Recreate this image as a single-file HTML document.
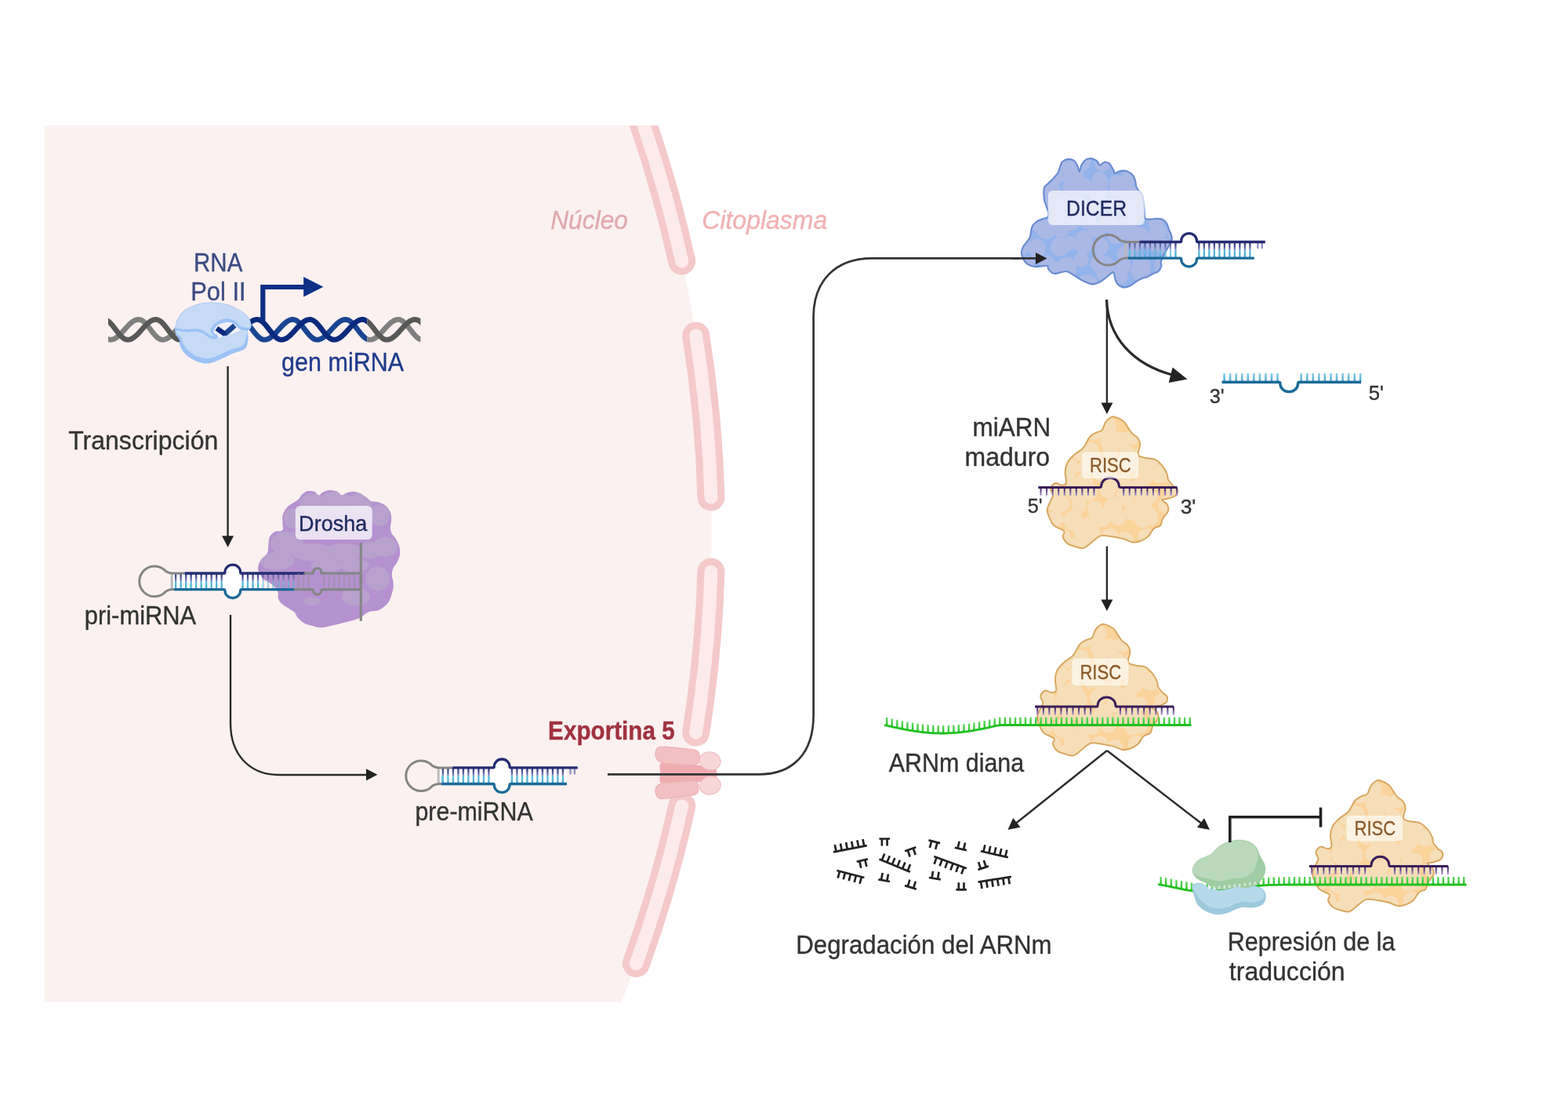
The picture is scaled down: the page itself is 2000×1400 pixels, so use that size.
<!DOCTYPE html>
<html lang="es"><head><meta charset="utf-8"><title>Biogénesis de miRNA</title>
<style>html,body{margin:0;padding:0;background:#fff;}body{width:2000px;height:1400px;overflow:hidden;}svg{display:block;will-change:transform;}text{font-family:"Liberation Sans",sans-serif;}</style>
</head><body>
<svg width="2000" height="1400" viewBox="0 0 2000 1400">
<defs>
<clipPath id="nuc"><rect x="57" y="160" width="1000" height="1118"/></clipPath>
<linearGradient id="tickH" x1="0" y1="0" x2="0" y2="1"><stop offset="0" stop-color="#2a2f75"/><stop offset="0.3" stop-color="#5a5e9e"/><stop offset="0.46" stop-color="#8789bd"/><stop offset="0.5" stop-color="#62bdd9"/><stop offset="1" stop-color="#41a9cd"/></linearGradient>
</defs>
<g clip-path="url(#nuc)">
<circle cx="-700.2" cy="680.7" r="1607.9" fill="#fbf1f0"/>
<path d="M799.2,100 A1607.9,1607.9 0 0 1 869.7,333" fill="none" stroke="#f4c9ca" stroke-width="35" stroke-linecap="round"/>
<path d="M887.7,428 A1607.9,1607.9 0 0 1 907,634" fill="none" stroke="#f4c9ca" stroke-width="35" stroke-linecap="round"/>
<path d="M907,729 A1607.9,1607.9 0 0 1 887.6,934" fill="none" stroke="#f4c9ca" stroke-width="35" stroke-linecap="round"/>
<path d="M869.7,1028 A1607.9,1607.9 0 0 1 811.5,1228.5" fill="none" stroke="#f4c9ca" stroke-width="35" stroke-linecap="round"/>
<path d="M799.2,100 A1607.9,1607.9 0 0 1 869.7,333" fill="none" stroke="#fdeaea" stroke-width="17" stroke-linecap="round"/>
<path d="M887.7,428 A1607.9,1607.9 0 0 1 907,634" fill="none" stroke="#fdeaea" stroke-width="17" stroke-linecap="round"/>
<path d="M907,729 A1607.9,1607.9 0 0 1 887.6,934" fill="none" stroke="#fdeaea" stroke-width="17" stroke-linecap="round"/>
<path d="M869.7,1028 A1607.9,1607.9 0 0 1 811.5,1228.5" fill="none" stroke="#fdeaea" stroke-width="17" stroke-linecap="round"/>
</g>
<g id="icons">
<clipPath id="dnaL"><rect x="138" y="395" width="100" height="50"/></clipPath>
<clipPath id="dnaB"><rect x="300" y="395" width="168.4" height="50"/></clipPath>
<clipPath id="dnaR"><rect x="468.4" y="395" width="68" height="50"/></clipPath>
<g fill="none" stroke-width="6.7" stroke-linecap="butt" stroke-linejoin="round" clip-path="url(#dnaL)"><polyline points="130,425.9 131.5,427.7 133,429.2 134.5,430.5 136,431.6 137.5,432.4 139,433 140.5,433.2 142,433.1 143.5,432.9 145,432.4 146.5,431.7 148,430.8 149.5,429.7 151,428.5 152.5,427.1 154,425.6 155.5,424 157,422.4 158.5,420.7 160,419 161.5,417.3 163,415.7 164.5,414.2 166,412.7 167.5,411.4 169,410.3 170.5,409.3 172,408.5 173.5,407.9 175,407.6 176.5,407.4 178,407.5 179.5,407.9 181,408.6 182.5,409.5 184,410.8 185.5,412.2 187,413.9 188.5,415.6 190,417.5 191.5,419.5 193,421.5 194.5,423.5 196,425.3 197.5,427.1 199,428.7 200.5,430.1 202,431.3 203.5,432.2 205,432.8 206.5,433.1 208,433.2 209.5,433 211,432.6 212.5,431.9 214,431.1 215.5,430.1 217,428.9 218.5,427.6 220,426.1 221.5,424.6 223,422.9 224.5,421.3 226,419.6 227.5,417.9 229,416.2 230.5,414.7 232,413.2 233.5,411.9 235,410.7 236.5,409.6 238,408.8 239.5,408.1 241,407.7 242.5,407.4 244,407.4" stroke="#808080"/><polyline points="130,407.7 131.5,407.4 133,407.4 134.5,407.7 136,408.3 137.5,409.2 139,410.3 140.5,411.7 142,413.3 143.5,415 145,416.9 146.5,418.9 148,420.8 149.5,422.8 151,424.7 152.5,426.5 154,428.2 155.5,429.7 157,430.9 158.5,431.9 160,432.6 161.5,433.1 163,433.2 164.5,433.1 166,432.7 167.5,432.2 169,431.4 170.5,430.4 172,429.3 173.5,428 175,426.6 176.5,425.1 178,423.5 179.5,421.8 181,420.1 182.5,418.4 184,416.8 185.5,415.2 187,413.7 188.5,412.3 190,411 191.5,409.9 193,409 194.5,408.3 196,407.8 197.5,407.5 199,407.4 200.5,407.6 202,408.1 203.5,408.9 205,409.9 206.5,411.2 208,412.7 209.5,414.4 211,416.3 212.5,418.2 214,420.2 215.5,422.2 217,424.1 218.5,425.9 220,427.7 221.5,429.2 223,430.5 224.5,431.6 226,432.4 227.5,433 229,433.2 230.5,433.1 232,432.9 233.5,432.4 235,431.7 236.5,430.8 238,429.7 239.5,428.5 241,427.1 242.5,425.6 244,424" stroke="#585858"/></g>
<g fill="none" stroke-width="6.7" stroke-linecap="butt" stroke-linejoin="round" clip-path="url(#dnaB)"><polyline points="295,413.2 296.5,411.9 298,410.7 299.5,409.6 301,408.8 302.5,408.1 304,407.7 305.5,407.4 307,407.4 308.5,407.7 310,408.3 311.5,409.1 313,410.2 314.5,411.5 316,413.1 317.5,414.8 319,416.6 320.5,418.5 322,420.5 323.5,422.4 325,424.4 326.5,426.2 328,427.8 329.5,429.3 331,430.6 332.5,431.7 334,432.5 335.5,433 337,433.2 338.5,433.1 340,432.9 341.5,432.4 343,431.7 344.5,430.8 346,429.7 347.5,428.5 349,427.1 350.5,425.7 352,424.1 353.5,422.5 355,420.8 356.5,419.1 358,417.5 359.5,415.9 361,414.3 362.5,412.9 364,411.6 365.5,410.4 367,409.4 368.5,408.6 370,408 371.5,407.6 373,407.4 374.5,407.5 376,407.8 377.5,408.4 379,409.3 380.5,410.4 382,411.8 383.5,413.4 385,415.1 386.5,417 388,418.9 389.5,420.9 391,422.8 392.5,424.7 394,426.5 395.5,428.2 397,429.6 398.5,430.9 400,431.9 401.5,432.6 403,433 404.5,433.2 406,433.1 407.5,432.8 409,432.2 410.5,431.5 412,430.6 413.5,429.5 415,428.2 416.5,426.9 418,425.4 419.5,423.8 421,422.1 422.5,420.5 424,418.8 425.5,417.2 427,415.6 428.5,414 430,412.6 431.5,411.4 433,410.2 434.5,409.3 436,408.5 437.5,407.9 439,407.6 440.5,407.4 442,407.5 443.5,407.9 445,408.6 446.5,409.5 448,410.7 449.5,412.1 451,413.7 452.5,415.5 454,417.4 455.5,419.3 457,421.3 458.5,423.2 460,425.1 461.5,426.9 463,428.5 464.5,429.9 466,431.1 467.5,432 469,432.7 470.5,433.1 472,433.2 473.5,433 475,432.7 476.5,432.1 478,431.3" stroke="#1a4492"/><polyline points="295,432.7 296.5,432.1 298,431.3 299.5,430.4 301,429.2 302.5,428 304,426.6 305.5,425.1 307,423.5 308.5,421.8 310,420.1 311.5,418.5 313,416.8 314.5,415.3 316,413.8 317.5,412.4 319,411.1 320.5,410 322,409.1 323.5,408.4 325,407.8 326.5,407.5 328,407.4 329.5,407.5 331,408 332.5,408.7 334,409.7 335.5,411 337,412.4 338.5,414.1 340,415.9 341.5,417.8 343,419.7 344.5,421.7 346,423.6 347.5,425.5 349,427.2 350.5,428.8 352,430.1 353.5,431.3 355,432.2 356.5,432.8 358,433.1 359.5,433.2 361,433 362.5,432.6 364,432 365.5,431.2 367,430.2 368.5,429 370,427.7 371.5,426.3 373,424.7 374.5,423.1 376,421.5 377.5,419.8 379,418.1 380.5,416.5 382,414.9 383.5,413.5 385,412.1 386.5,410.9 388,409.8 389.5,408.9 391,408.2 392.5,407.8 394,407.5 395.5,407.4 397,407.6 398.5,408.1 400,408.9 401.5,410 403,411.2 404.5,412.7 406,414.4 407.5,416.2 409,418.1 410.5,420.1 412,422.1 413.5,424 415,425.8 416.5,427.5 418,429.1 419.5,430.4 421,431.5 422.5,432.3 424,432.9 425.5,433.2 427,433.2 428.5,432.9 430,432.5 431.5,431.8 433,431 434.5,429.9 436,428.8 437.5,427.4 439,426 440.5,424.4 442,422.8 443.5,421.1 445,419.5 446.5,417.8 448,416.2 449.5,414.6 451,413.2 452.5,411.9 454,410.7 455.5,409.6 457,408.8 458.5,408.1 460,407.7 461.5,407.4 463,407.4 464.5,407.7 466,408.3 467.5,409.1 469,410.2 470.5,411.5 472,413.1 473.5,414.8 475,416.6 476.5,418.5 478,420.5" stroke="#0b2a7e"/></g>
<g fill="none" stroke-width="6.7" stroke-linecap="butt" stroke-linejoin="round" clip-path="url(#dnaR)"><polyline points="460,425.1 461.5,426.9 463,428.5 464.5,429.9 466,431.1 467.5,432 469,432.7 470.5,433.1 472,433.2 473.5,433 475,432.7 476.5,432.1 478,431.3 479.5,430.4 481,429.2 482.5,428 484,426.6 485.5,425.1 487,423.5 488.5,421.8 490,420.1 491.5,418.5 493,416.8 494.5,415.3 496,413.8 497.5,412.4 499,411.1 500.5,410 502,409.1 503.5,408.4 505,407.8 506.5,407.5 508,407.4 509.5,407.5 511,408 512.5,408.7 514,409.7 515.5,411 517,412.4 518.5,414.1 520,415.9 521.5,417.8 523,419.7 524.5,421.7 526,423.6 527.5,425.5 529,427.2 530.5,428.8 532,430.1 533.5,431.3 535,432.2 536.5,432.8 538,433.1 539.5,433.2 541,433 542.5,432.6 544,432" stroke="#808080"/><polyline points="460,407.7 461.5,407.4 463,407.4 464.5,407.7 466,408.3 467.5,409.1 469,410.2 470.5,411.5 472,413.1 473.5,414.8 475,416.6 476.5,418.5 478,420.5 479.5,422.4 481,424.4 482.5,426.2 484,427.8 485.5,429.3 487,430.6 488.5,431.7 490,432.5 491.5,433 493,433.2 494.5,433.1 496,432.9 497.5,432.4 499,431.7 500.5,430.8 502,429.7 503.5,428.5 505,427.1 506.5,425.7 508,424.1 509.5,422.5 511,420.8 512.5,419.1 514,417.5 515.5,415.9 517,414.3 518.5,412.9 520,411.6 521.5,410.4 523,409.4 524.5,408.6 526,408 527.5,407.6 529,407.4 530.5,407.5 532,407.8 533.5,408.4 535,409.3 536.5,410.4 538,411.8 539.5,413.4 541,415.1 542.5,417 544,418.9" stroke="#585858"/></g>
<path d="M335.3,410 V366 H388" fill="none" stroke="#0d2f85" stroke-width="6.2"/>
<polygon points="412.4,365.7 387.2,353 387.2,378.4" fill="#0d2f85"/>
<path d="M223.2,420.7C223.2,418.5 223.8,415.8 224.3,413.6C224.8,411.3 224.9,409.9 226.4,407.1C228,404.4 230.6,399.9 233.6,397.1C236.5,394.4 240.1,392.5 244.3,390.7C248.5,388.9 253.6,387.3 258.6,386.4C263.6,385.6 269.3,385.5 274.3,385.7C279.3,386 284,386.7 288.6,387.9C293.1,389 297.6,391 301.4,392.9C305.2,394.8 308.7,397 311.4,399.3C314.2,401.5 316.4,404 317.9,406.4C319.3,408.8 320.1,411.5 320.4,413.6C320.7,415.6 320.4,417.2 319.6,418.6C318.9,419.9 316.6,420 316.1,421.8C315.6,423.6 316.6,426.6 316.6,429.3C316.5,432 316.2,435.5 315.7,437.9C315.2,440.2 314.8,442 313.6,443.6C312.4,445.1 310.6,446.2 308.6,447.1C306.5,448.1 304.2,448.3 301.4,449.3C298.7,450.2 295.5,451.4 292.1,452.9C288.8,454.3 284.9,456.3 281.4,457.9C278,459.4 274.5,461.2 271.4,462.1C268.3,463.1 266,463.7 262.9,463.6C259.8,463.5 256.1,462.5 252.9,461.4C249.6,460.4 246.4,458.9 243.6,457.1C240.7,455.4 237.9,453 235.7,450.7C233.6,448.5 231.8,445.7 230.7,443.6C229.6,441.4 229.5,439.6 229.1,437.9C228.8,436.1 229.5,435.1 228.7,433.2C228,431.4 225.6,428.9 224.6,426.8C223.7,424.7 223.3,422.9 223.2,420.7Z" fill="#9dc2f5"/>
<path d="M224.3,420.7C225.1,419.8 226.7,420.7 231.4,420.7C236.2,420.7 245.7,420.7 252.9,420.7C260,420.7 267.1,420.7 274.3,420.7C281.4,420.7 289,420.6 295.7,420.7C302.4,420.8 311.6,420 314.6,421.4C317.7,422.9 314.4,426.7 313.9,429.3C313.5,431.9 312.6,435.2 311.8,437.1C311,439 310.2,439.8 308.9,440.7C307.7,441.7 306.1,442.2 304.3,442.9C302.4,443.5 300.4,443.8 297.9,444.6C295.4,445.5 292.3,446.5 289.3,447.9C286.2,449.2 282.7,451.1 279.6,452.5C276.5,453.9 273.5,455.3 270.7,456.1C268,456.8 266,457.2 263.2,457.1C260.5,457.1 257.1,456.5 254.3,455.6C251.4,454.6 248.6,453 246.1,451.4C243.5,449.8 240.9,447.8 238.9,445.9C237,443.9 235.4,441.5 234.3,439.6C233.2,437.8 232.8,436.4 232.3,434.9C231.8,433.3 232,431.8 231.1,430.4C230.1,428.9 227.6,427.7 226.4,426.1C225.3,424.5 223.5,421.6 224.3,420.7Z" fill="#c6daf5"/>
<path d="M274.6,430C273.8,428.9 273.1,426.6 272.9,425C272.6,423.4 272.6,421.9 273.2,420.4C273.8,418.8 274.8,417.1 276.4,415.7C278,414.3 280.2,413 282.9,412.1C285.5,411.3 289.4,410.5 292.1,410.7C294.9,411 297.4,412.4 299.3,413.6C301.2,414.8 302.3,416.7 303.6,417.9C304.8,419 306.9,419.9 306.8,420.7C306.7,421.6 304.9,422 302.9,423C300.8,424 297.4,425.6 294.3,426.6C291.2,427.5 287,427.9 284.3,428.7C281.5,429.5 279.5,431.4 277.9,431.6C276.2,431.8 275.5,431.1 274.6,430Z" fill="#f1eff6"/>
<clipPath id="holec"><path d="M274.6,430C273.8,428.9 273.1,426.6 272.9,425C272.6,423.4 272.6,421.9 273.2,420.4C273.8,418.8 274.8,417.1 276.4,415.7C278,414.3 280.2,413 282.9,412.1C285.5,411.3 289.4,410.5 292.1,410.7C294.9,411 297.4,412.4 299.3,413.6C301.2,414.8 302.3,416.7 303.6,417.9C304.8,419 306.9,419.9 306.8,420.7C306.7,421.6 304.9,422 302.9,423C300.8,424 297.4,425.6 294.3,426.6C291.2,427.5 287,427.9 284.3,428.7C281.5,429.5 279.5,431.4 277.9,431.6C276.2,431.8 275.5,431.1 274.6,430Z"/></clipPath>
<g clip-path="url(#holec)" fill="none" stroke-width="6.6" stroke-linejoin="miter">
<path d="M286.8,425.9 L299.3,415" stroke="#1a4492"/>
<path d="M276.4,418.6 L286.8,425.9 L288.3,424.7" stroke="#0b2a7e"/>
</g>
<path d="M223.2,420.7C222.5,419.3 223.8,415.8 224.3,413.6C224.8,411.3 224.9,409.9 226.4,407.1C228,404.4 230.6,399.9 233.6,397.1C236.5,394.4 240.1,392.5 244.3,390.7C248.5,388.9 253.6,387.3 258.6,386.4C263.6,385.6 269.3,385.5 274.3,385.7C279.3,386 284,386.7 288.6,387.9C293.1,389 297.6,391 301.4,392.9C305.2,394.8 308.7,397 311.4,399.3C314.2,401.5 316.4,404 317.9,406.4C319.3,408.8 320.1,411.5 320.4,413.6C320.7,415.6 320.4,417.3 319.6,418.6C318.9,419.9 317.8,421 315.7,421.3C313.6,421.5 309.3,421 307.1,420.1C305,419.3 304.2,417.6 302.9,416.4C301.5,415.2 301.1,413.9 299.3,412.9C297.5,411.8 294.9,410.4 292.1,410.1C289.4,409.9 285.6,410.5 282.9,411.4C280.1,412.4 277.5,414.2 275.7,415.7C274,417.3 272.7,419.3 272.3,420.7C271.8,422.2 272.2,423.3 273,424.4C273.8,425.5 276.3,426.2 277.1,427.3C278,428.3 278.5,429.9 278,430.7C277.5,431.5 275.9,432.2 274.3,432.3C272.7,432.4 270.5,432.2 268.6,431.4C266.7,430.7 264.8,429 262.9,427.9C261,426.7 259.3,425.1 257.1,424.3C255,423.5 253.1,423 250,422.9C246.9,422.7 242.1,423.7 238.6,423.6C235,423.5 231.1,422.6 228.6,422.1C226,421.7 223.9,422.1 223.2,420.7Z" fill="#9dc2f5"/>
<path d="M223.9,418.2C223.3,417.4 224.2,415.4 224.6,413.6C225.1,411.8 225.3,410 226.9,407.4C228.4,404.7 231,400.2 233.9,397.5C236.9,394.8 240.4,392.9 244.5,391.1C248.6,389.4 253.7,387.8 258.6,386.9C263.6,386.1 269.3,386 274.3,386.2C279.3,386.5 284,387.2 288.5,388.4C293,389.5 297.5,391.4 301.2,393.3C305,395.2 308.4,397.4 311.1,399.6C313.8,401.9 315.9,404.3 317.4,406.6C318.8,409 319.5,411.8 319.8,413.6C320.1,415.3 319.6,416.4 319.1,417.1C318.6,417.9 318.6,418 316.8,417.9C315,417.7 310.4,417.3 308.2,416.4C306.1,415.6 305.4,414.1 303.9,412.9C302.5,411.6 301.6,410.2 299.6,409.1C297.7,408.1 295.1,406.7 292.1,406.4C289.2,406.2 284.9,406.6 281.8,407.7C278.7,408.8 275.7,410.9 273.6,412.9C271.4,414.8 269.5,417.6 268.9,419.6C268.3,421.7 269.2,424 269.9,425.4C270.5,426.7 272.6,427.2 272.9,427.7C273.1,428.2 272.2,428.6 271.4,428.6C270.7,428.6 269.5,428.4 268.2,427.7C266.9,427 265.4,425.5 263.6,424.3C261.7,423.1 259.4,421.5 257.1,420.7C254.9,419.9 253.1,419.4 250,419.3C246.9,419.2 242.1,420.1 238.6,420C235,419.9 231,419 228.6,418.7C226.1,418.4 224.6,419.1 223.9,418.2Z" fill="#c6daf5"/>
<g><rect x="218" y="731" width="118" height="20.6" fill="#fff"/><rect x="286.9" y="720.1" width="19.8" height="42.4" rx="9.9" fill="#fff"/></g>
<g>
<path d="M385.5,630.3C387.3,628.7 389.9,626.7 392.4,626.1C395,625.6 398.4,626 400.8,626.8C403.1,627.7 404.8,631.3 406.6,631.4C408.5,631.6 409.6,628.6 411.9,627.5C414.2,626.5 417.3,625.1 420.3,625C423.3,624.9 427.4,625.8 430,626.8C432.6,627.9 433.8,631.2 435.9,631.4C438,631.7 440.1,629 442.6,628.2C445.1,627.5 448.1,626.7 450.9,626.8C453.7,627 456.5,627.7 459.3,628.9C462.1,630.2 465.3,632.8 467.6,634.5C470,636.2 470.9,638 473.2,639C475.5,639.9 478.5,639.2 481.6,640.1C484.6,641 488.6,642.2 491.3,644.2C494,646.3 496.3,649.6 497.6,652.6C498.9,655.6 499.2,658.9 499.2,662.4C499.3,665.8 497.7,670.5 497.9,673.5C498,676.5 498.7,678.1 499.9,680.5C501.2,682.8 503.7,684.6 505.2,687.4C506.8,690.2 508.6,693.9 509.4,697.2C510.2,700.4 510.6,703.7 510.1,706.9C509.6,710.2 508.1,713.7 506.6,716.7C505.2,719.7 502.5,722.2 501.3,725C500.2,727.8 499.9,730.8 499.9,733.4C499.9,735.9 501,737.8 501.3,740.3C501.6,742.9 502,745.9 501.8,748.7C501.5,751.5 500.5,754.3 499.7,757.1C498.9,759.8 498.3,762.9 496.9,765.4C495.5,768 493.6,770.3 491.3,772.4C489,774.5 486,776.7 483,778C479.9,779.2 476,778.9 473.2,779.6C470.4,780.4 468.6,781.1 466.2,782.4C463.9,783.8 462.8,786.1 459.3,787.7C455.8,789.3 449.5,791 445.3,792.2C441.2,793.4 437.9,794 434.2,794.9C430.5,795.9 427.2,796.8 423.1,797.7C418.9,798.6 413.3,800.2 409.1,800.2C405,800.2 401.5,798.7 398,797.7C394.5,796.8 391.3,796.3 388.2,794.7C385.2,793 382,790 379.9,787.7C377.8,785.4 377.8,782.8 375.7,780.7C373.6,778.6 370.1,777 367.4,775.2C364.6,773.3 361.1,771.7 359,769.6C356.9,767.5 355.6,765.2 354.8,762.6C354,760.1 355.4,757.1 354.3,754.3C353.1,751.5 351,748.7 347.9,745.9C344.7,743.1 338.4,740.6 335.3,737.6C332.3,734.5 330.4,730.8 329.5,727.8C328.6,724.8 329.3,722 330,719.5C330.8,716.9 332.1,714.8 333.9,712.5C335.7,710.2 339.5,708.3 340.9,705.5C342.3,702.7 341.8,699.3 342.3,695.8C342.8,692.3 342.6,687.6 344,684.6C345.3,681.7 347.9,679.3 350.6,678C353.3,676.6 358.5,678.2 360.1,676.3C361.7,674.4 360.3,669.8 360.4,666.5C360.5,663.3 359.7,660 360.7,656.8C361.6,653.5 363.5,649.8 366,647C368.5,644.2 373.2,641.9 375.7,640.1C378.3,638.2 379.7,637.5 381.3,635.9C382.9,634.3 383.6,631.9 385.5,630.3Z" fill="#b592cf"/>
<clipPath id="drc"><path d="M385.5,630.3C387.3,628.7 389.9,626.7 392.4,626.1C395,625.6 398.4,626 400.8,626.8C403.1,627.7 404.8,631.3 406.6,631.4C408.5,631.6 409.6,628.6 411.9,627.5C414.2,626.5 417.3,625.1 420.3,625C423.3,624.9 427.4,625.8 430,626.8C432.6,627.9 433.8,631.2 435.9,631.4C438,631.7 440.1,629 442.6,628.2C445.1,627.5 448.1,626.7 450.9,626.8C453.7,627 456.5,627.7 459.3,628.9C462.1,630.2 465.3,632.8 467.6,634.5C470,636.2 470.9,638 473.2,639C475.5,639.9 478.5,639.2 481.6,640.1C484.6,641 488.6,642.2 491.3,644.2C494,646.3 496.3,649.6 497.6,652.6C498.9,655.6 499.2,658.9 499.2,662.4C499.3,665.8 497.7,670.5 497.9,673.5C498,676.5 498.7,678.1 499.9,680.5C501.2,682.8 503.7,684.6 505.2,687.4C506.8,690.2 508.6,693.9 509.4,697.2C510.2,700.4 510.6,703.7 510.1,706.9C509.6,710.2 508.1,713.7 506.6,716.7C505.2,719.7 502.5,722.2 501.3,725C500.2,727.8 499.9,730.8 499.9,733.4C499.9,735.9 501,737.8 501.3,740.3C501.6,742.9 502,745.9 501.8,748.7C501.5,751.5 500.5,754.3 499.7,757.1C498.9,759.8 498.3,762.9 496.9,765.4C495.5,768 493.6,770.3 491.3,772.4C489,774.5 486,776.7 483,778C479.9,779.2 476,778.9 473.2,779.6C470.4,780.4 468.6,781.1 466.2,782.4C463.9,783.8 462.8,786.1 459.3,787.7C455.8,789.3 449.5,791 445.3,792.2C441.2,793.4 437.9,794 434.2,794.9C430.5,795.9 427.2,796.8 423.1,797.7C418.9,798.6 413.3,800.2 409.1,800.2C405,800.2 401.5,798.7 398,797.7C394.5,796.8 391.3,796.3 388.2,794.7C385.2,793 382,790 379.9,787.7C377.8,785.4 377.8,782.8 375.7,780.7C373.6,778.6 370.1,777 367.4,775.2C364.6,773.3 361.1,771.7 359,769.6C356.9,767.5 355.6,765.2 354.8,762.6C354,760.1 355.4,757.1 354.3,754.3C353.1,751.5 351,748.7 347.9,745.9C344.7,743.1 338.4,740.6 335.3,737.6C332.3,734.5 330.4,730.8 329.5,727.8C328.6,724.8 329.3,722 330,719.5C330.8,716.9 332.1,714.8 333.9,712.5C335.7,710.2 339.5,708.3 340.9,705.5C342.3,702.7 341.8,699.3 342.3,695.8C342.8,692.3 342.6,687.6 344,684.6C345.3,681.7 347.9,679.3 350.6,678C353.3,676.6 358.5,678.2 360.1,676.3C361.7,674.4 360.3,669.8 360.4,666.5C360.5,663.3 359.7,660 360.7,656.8C361.6,653.5 363.5,649.8 366,647C368.5,644.2 373.2,641.9 375.7,640.1C378.3,638.2 379.7,637.5 381.3,635.9C382.9,634.3 383.6,631.9 385.5,630.3Z"/></clipPath>
<g clip-path="url(#drc)" fill="#bba5cc" opacity="0.8">
<ellipse cx="398" cy="642.9" rx="15.3" ry="13.9"/>
<ellipse cx="428.6" cy="638.7" rx="19.5" ry="12.5"/>
<ellipse cx="459.3" cy="641.5" rx="15.3" ry="12.5"/>
<ellipse cx="484.3" cy="656.8" rx="12.5" ry="13.9"/>
<ellipse cx="366" cy="693" rx="20.9" ry="15.3"/>
<ellipse cx="353.4" cy="715.3" rx="22.3" ry="11.1"/>
<ellipse cx="398" cy="704.1" rx="27.9" ry="11.1"/>
<ellipse cx="438.4" cy="704.1" rx="25.1" ry="11.1"/>
<ellipse cx="471.8" cy="701.4" rx="12.5" ry="11.1"/>
<ellipse cx="491.3" cy="697.2" rx="15.3" ry="12.5"/>
<ellipse cx="417.5" cy="720.8" rx="20.9" ry="8.4"/>
<ellipse cx="452.3" cy="720.8" rx="18.1" ry="8.4"/>
<ellipse cx="481.6" cy="737.6" rx="15.3" ry="15.3"/>
<ellipse cx="453.7" cy="761.2" rx="18.1" ry="11.1"/>
<ellipse cx="398" cy="766.8" rx="11.1" ry="5.6"/>
<ellipse cx="372.9" cy="661" rx="11.1" ry="12.5"/>
</g></g>
<g><rect x="217.7" y="731" width="3" height="20.6" fill="#b9b9b9"/><rect x="223" y="731" width="2.3" height="20.6" fill="url(#tickH)"/><rect x="229.5" y="731" width="2.3" height="20.6" fill="url(#tickH)"/><rect x="236" y="731" width="2.3" height="20.6" fill="url(#tickH)"/><rect x="242.5" y="731" width="2.3" height="20.6" fill="url(#tickH)"/><rect x="249" y="731" width="2.3" height="20.6" fill="url(#tickH)"/><rect x="255.5" y="731" width="2.3" height="20.6" fill="url(#tickH)"/><rect x="262" y="731" width="2.3" height="20.6" fill="url(#tickH)"/><rect x="268.5" y="731" width="2.3" height="20.6" fill="url(#tickH)"/><rect x="275" y="731" width="2.3" height="20.6" fill="url(#tickH)"/><rect x="281.5" y="731" width="2.3" height="20.6" fill="url(#tickH)"/><rect x="308.4" y="731" width="2.3" height="20.6" fill="url(#tickH)"/><rect x="314.9" y="731" width="2.3" height="20.6" fill="url(#tickH)"/><rect x="321.4" y="731" width="2.3" height="20.6" fill="url(#tickH)"/><rect x="327.9" y="731" width="2.3" height="20.6" fill="url(#tickH)"/><rect x="334.4" y="731" width="2.3" height="20.6" fill="url(#tickH)" opacity="0.55"/><rect x="340.9" y="731" width="2.3" height="20.6" fill="url(#tickH)" opacity="0.55"/><rect x="347.4" y="731" width="2.3" height="20.6" fill="url(#tickH)" opacity="0.55"/><rect x="353.9" y="731" width="2.3" height="20.6" fill="url(#tickH)" opacity="0.55"/><rect x="360.4" y="731" width="2.3" height="20.6" fill="url(#tickH)" opacity="0.55"/><rect x="366.9" y="731" width="2.3" height="20.6" fill="url(#tickH)" opacity="0.55"/><rect x="373.4" y="731" width="2.3" height="20.6" fill="url(#tickH)" opacity="0.55"/><path d="M235.6,731 H220 Q215.3,731 211.6,728.6 A19.3,19.3 0 1 0 211.6,754 Q215.3,751.6 220,751.6 H222" fill="none" stroke="#868686" stroke-width="3" stroke-linejoin="round"/><path d="M235.6,731 H285.5 Q286.9,731 286.9,729.7 C286.9,724.4 291.3,720.1 296.8,720.1 C302.3,720.1 306.7,724.4 306.7,729.7 Q306.7,731 308.1,731 H389.5" fill="none" stroke="#252c73" stroke-width="3.3"/><path d="M222,751.6 H285.5 Q286.9,751.6 286.9,752.9 C286.9,758.2 291.3,762.5 296.8,762.5 C302.3,762.5 306.7,758.2 306.7,752.9 Q306.7,751.6 308.1,751.6 H376" fill="none" stroke="#1b6a98" stroke-width="3.3"/></g>
<g>
<rect x="379.5" y="731" width="2.3" height="21" fill="#8e8e8e" opacity="0.4"/>
<rect x="386" y="731" width="2.3" height="21" fill="#8e8e8e" opacity="0.4"/>
<rect x="392.5" y="731" width="2.3" height="21" fill="#8e8e8e" opacity="0.4"/>
<rect x="412" y="731" width="2.3" height="21" fill="#8e8e8e" opacity="0.4"/>
<rect x="418.5" y="731" width="2.3" height="21" fill="#8e8e8e" opacity="0.4"/>
<rect x="425" y="731" width="2.3" height="21" fill="#8e8e8e" opacity="0.4"/>
<rect x="431.5" y="731" width="2.3" height="21" fill="#8e8e8e" opacity="0.4"/>
<rect x="438" y="731" width="2.3" height="21" fill="#8e8e8e" opacity="0.4"/>
<rect x="444.5" y="731" width="2.3" height="21" fill="#8e8e8e" opacity="0.4"/>
<rect x="451" y="731" width="2.3" height="21" fill="#8e8e8e" opacity="0.4"/>
<rect x="457.5" y="731" width="2.3" height="21" fill="#8e8e8e" opacity="0.4"/>
<path d="M388,731 H398.4 Q399.6,731 399.6,729.9 C399.6,727 401.9,724.6 404.8,724.6 C407.7,724.6 410,727 410,729.9 Q410,731 411.2,731 H460.3" fill="none" stroke="#868686" stroke-width="3.2"/>
<path d="M375,751.6 H398.4 Q399.6,751.6 399.6,752.7 C399.6,755.6 401.9,758 404.8,758 C407.7,758 410,755.6 410,752.7 Q410,751.6 411.2,751.6 H460.3" fill="none" stroke="#868686" stroke-width="3.2"/>
<path d="M460.3,692.3 V791.9" fill="none" stroke="#868686" stroke-width="3.2"/>
</g>
<rect x="376.8" y="645" width="98" height="43" rx="6" fill="#ffffff" fill-opacity="0.72"/>
<g><rect x="558" y="978.9" width="165" height="20.6" fill="#fff"/><rect x="630.3" y="968" width="19.8" height="42.4" rx="9.9" fill="#fff"/></g>
<g><rect x="557.7" y="978.9" width="3" height="20.6" fill="#b9b9b9"/><rect x="563.8" y="978.9" width="2.3" height="20.6" fill="url(#tickH)"/><rect x="570.3" y="978.9" width="2.3" height="20.6" fill="url(#tickH)"/><rect x="576.8" y="978.9" width="2.3" height="20.6" fill="url(#tickH)"/><rect x="583.3" y="978.9" width="2.3" height="20.6" fill="url(#tickH)"/><rect x="589.8" y="978.9" width="2.3" height="20.6" fill="url(#tickH)"/><rect x="596.3" y="978.9" width="2.3" height="20.6" fill="url(#tickH)"/><rect x="602.8" y="978.9" width="2.3" height="20.6" fill="url(#tickH)"/><rect x="609.3" y="978.9" width="2.3" height="20.6" fill="url(#tickH)"/><rect x="615.8" y="978.9" width="2.3" height="20.6" fill="url(#tickH)"/><rect x="622.3" y="978.9" width="2.3" height="20.6" fill="url(#tickH)"/><rect x="651.8" y="978.9" width="2.3" height="20.6" fill="url(#tickH)"/><rect x="658.3" y="978.9" width="2.3" height="20.6" fill="url(#tickH)"/><rect x="664.8" y="978.9" width="2.3" height="20.6" fill="url(#tickH)"/><rect x="671.3" y="978.9" width="2.3" height="20.6" fill="url(#tickH)"/><rect x="677.8" y="978.9" width="2.3" height="20.6" fill="url(#tickH)"/><rect x="684.3" y="978.9" width="2.3" height="20.6" fill="url(#tickH)"/><rect x="690.8" y="978.9" width="2.3" height="20.6" fill="url(#tickH)"/><rect x="697.3" y="978.9" width="2.3" height="20.6" fill="url(#tickH)"/><rect x="703.8" y="978.9" width="2.3" height="20.6" fill="url(#tickH)"/><rect x="710.3" y="978.9" width="2.3" height="20.6" fill="url(#tickH)"/><rect x="716.8" y="978.9" width="2.3" height="20.6" fill="url(#tickH)"/><rect x="563.2" y="989.2" width="2.3" height="10.3" fill="#62bdd9"/><rect x="726.4" y="978.9" width="2.3" height="8.5" fill="#8f8ec0"/><rect x="731.8" y="978.9" width="2.3" height="8.5" fill="#8f8ec0"/><path d="M577.2,978.9 H560 Q555.3,978.9 551.6,976.5 A19.3,19.3 0 1 0 551.6,1001.9 Q555.3,999.5 560,999.5 H562.8" fill="none" stroke="#868686" stroke-width="3" stroke-linejoin="round"/><path d="M577.2,978.9 H628.9 Q630.3,978.9 630.3,977.6 C630.3,972.3 634.7,968 640.2,968 C645.7,968 650.1,972.3 650.1,977.6 Q650.1,978.9 651.5,978.9 H736.8" fill="none" stroke="#252c73" stroke-width="3.3"/><path d="M562.8,999.5 H628.9 Q630.3,999.5 630.3,1000.8 C630.3,1006.1 634.7,1010.4 640.2,1010.4 C645.7,1010.4 650.1,1006.1 650.1,1000.8 Q650.1,999.5 651.5,999.5 H723" fill="none" stroke="#1b6a98" stroke-width="3.3"/></g>
<g>
<path d="M843.6,972.9C847.4,971.1 856.8,973.9 865,974.3C873.2,974.8 885.1,974.9 892.9,975.7C900.6,976.6 907.8,977.6 911.4,979.4C915,981.3 914.4,984.4 914.4,986.9C914.4,989.3 915,992.6 911.4,994.3C907.8,996 900.6,996.5 892.9,997.1C885.1,997.7 873.2,997.6 865,997.8C856.8,998 847.4,1000.6 843.6,998.5C839.8,996.3 842.2,989.3 842.2,985C842.2,980.7 839.8,974.7 843.6,972.9Z" fill="#f0adb1"/>
<path d="M840.9,952.7C842.6,952.2 844.3,951.9 848.3,952C852.3,952.2 859.4,953 865,953.6C870.6,954.2 877.7,954.8 881.7,955.5C885.7,956.1 887.4,956.3 889.1,957.3C890.9,958.4 891.6,959.6 892.1,961.8C892.6,963.9 892.4,968.1 891.9,970.1C891.4,972.2 890.8,973.4 889.1,974.3C887.4,975.2 885.7,975.7 881.7,975.7C877.7,975.7 870.6,974.8 865,974.3C859.4,973.9 852.2,973.7 848.3,973.1C844.3,972.6 843.2,972.2 841.3,971.1C839.4,970 837.8,968.3 837,966.4C836.1,964.6 835.9,961.9 836,959.9C836.1,958 836.8,956 837.6,954.8C838.4,953.6 839.1,953.1 840.9,952.7Z" fill="#f2c0c2" stroke="#ecb4b7" stroke-width="1.2"/>
<path d="M841.3,999.9C843.2,999 844.3,998.6 848.3,998.2C852.2,997.7 859.4,997.5 865,997.1C870.6,996.6 877.8,995.8 881.7,995.7C885.6,995.5 886.7,995.5 888.2,996.3C889.7,997.2 890.1,998.6 890.5,1000.8C890.9,1002.9 891.1,1007.1 890.5,1009.1C890,1011.1 889.1,1012 887.3,1012.9C885.5,1013.7 883.6,1014 879.9,1014.5C876.1,1015.1 870.3,1015.5 865,1016.1C859.7,1016.7 852.3,1017.9 848.3,1018.2C844.3,1018.5 842.7,1018.7 840.9,1018C839,1017.2 837.9,1015.4 837.1,1013.8C836.3,1012.2 836,1009.9 836,1008.2C836,1006.5 836.3,1005 837.1,1003.6C838,1002.2 839.5,1000.7 841.3,999.9Z" fill="#f2c0c2" stroke="#ecb4b7" stroke-width="1.2"/>
<ellipse cx="905.6" cy="970.3" rx="13.6" ry="11.4" fill="#f7d6d7" stroke="#efc0c2" stroke-width="1.2" transform="rotate(12 905.6 970.3)"/>
<ellipse cx="905.8" cy="1001.6" rx="13.6" ry="11.4" fill="#f7d6d7" stroke="#efc0c2" stroke-width="1.2" transform="rotate(-12 905.8 1001.6)"/>
</g>
<path d="M775,987.3 H968 C1012,987.3 1037.6,960 1037.6,912 V404 C1037.6,358 1066,329.3 1112,329.3 H1300" fill="none" stroke="#333" stroke-width="2.7" />
<g><rect x="1434.5" y="308.5" width="165.3" height="20.6" fill="#fff"/><rect x="1506.7" y="297.6" width="19.8" height="42.4" rx="9.9" fill="#fff"/></g>
<g ><clipPath id="bl1"><path d="M1352.4,211.7C1353.3,209.5 1353.6,207.8 1355.1,206.3C1356.7,204.8 1359.4,203.1 1361.9,202.9C1364.4,202.7 1368,203.5 1370.1,204.9C1372.2,206.4 1373.3,209.4 1374.4,211.7C1375.6,214 1376,219 1376.9,218.8C1377.7,218.5 1378.2,212.9 1379.6,210.4C1380.9,207.8 1383,204.9 1385,203.6C1387,202.2 1389.5,202 1391.8,202.2C1394.1,202.4 1396.7,203.5 1398.6,204.9C1400.4,206.3 1401.3,210.3 1402.9,210.6C1404.5,211 1406.1,207.3 1408.1,207C1410.1,206.6 1412.8,206.6 1414.9,208.3C1416.9,210 1419.1,215.1 1420.3,217.1C1421.5,219.2 1420.3,220.7 1421.9,220.8C1423.5,220.9 1427.1,218.2 1429.8,217.8C1432.5,217.4 1435.4,217.6 1437.9,218.5C1440.4,219.4 1443,221.2 1444.7,223.3C1446.4,225.3 1447.4,228.3 1448.1,230.7C1448.8,233.1 1448.5,235.6 1449.1,237.5C1449.7,239.4 1450.5,240.4 1451.8,242.3C1453.1,244.1 1455.7,245.3 1456.9,248.4C1458.1,251.4 1458.5,256.7 1459,260.6C1459.4,264.4 1459.4,268.4 1459.7,271.4C1459.9,274.4 1459.5,277.1 1460.6,278.5C1461.7,279.8 1464.1,279.5 1466.4,279.6C1468.8,279.6 1471.9,278.9 1474.6,278.9C1477.3,278.9 1480.5,278.8 1482.7,279.8C1485,280.9 1486.8,282.8 1488.2,285C1489.6,287.2 1490.2,290.9 1491.1,293.1C1492,295.4 1493,296.5 1493.6,298.6C1494.2,300.6 1495.1,302.9 1494.7,305.4C1494.2,307.9 1492.4,310.6 1490.9,313.5C1489.3,316.4 1487.1,319.6 1485.4,323C1483.7,326.4 1481.4,331.2 1480.7,333.9C1480,336.6 1481.9,337.3 1481.4,339.3C1480.8,341.3 1479.1,344.5 1477.3,346.1C1475.5,347.7 1472.8,347.9 1470.5,349.1C1468.2,350.2 1466,351.9 1463.7,352.9C1461.5,353.9 1459.2,354.1 1456.9,355C1454.7,355.9 1452.6,356.8 1450.2,358.3C1447.7,359.8 1444.7,362.6 1442,364C1439.3,365.4 1436.6,366.7 1433.9,366.4C1431.2,366.2 1427.6,364.2 1425.7,362.4C1423.8,360.6 1423.3,358.1 1422.3,355.6C1421.4,353 1421.7,347.6 1420,347.2C1418.3,346.7 1415,350.8 1412.1,352.9C1409.3,354.9 1405.8,358.1 1402.6,359.7C1399.5,361.2 1396.1,362.4 1393.1,362.4C1390.2,362.4 1387.7,360.8 1385,359.7C1382.3,358.5 1379.6,357.2 1376.9,355.6C1374.1,354 1371.4,351.7 1368.7,350.2C1366,348.6 1363.3,346.5 1360.6,346.1C1357.9,345.6 1355.1,347 1352.4,347.4C1349.7,347.9 1346.8,349.4 1344.3,348.8C1341.8,348.2 1338.9,345.3 1337.5,343.6C1336.1,342 1337.2,339.7 1335.9,339C1334.5,338.3 1332,339.1 1329.4,339.3C1326.7,339.5 1323,340.4 1319.9,340C1316.7,339.5 1312.8,338.3 1310.4,336.6C1307.9,334.9 1306.2,332.3 1304.9,329.8C1303.7,327.3 1302.9,324.1 1302.9,321.7C1302.9,319.2 1303.9,316.9 1304.9,314.9C1305.9,312.8 1307.5,311.5 1309,309.4C1310.5,307.4 1312.7,305.1 1313.8,302.6C1314.8,300.2 1314.5,297 1315.1,294.5C1315.7,292 1315.9,289.8 1317.1,287.7C1318.4,285.7 1320.3,283.8 1322.6,282.3C1324.8,280.8 1328.4,279.8 1330.7,278.9C1333,278 1335.3,278.1 1336.4,276.9C1337.5,275.6 1337.8,273.7 1337.5,271.4C1337.2,269.2 1335.7,266 1334.8,263.3C1333.9,260.6 1332.6,257.9 1332.1,255.1C1331.5,252.4 1331.4,249.7 1331.4,247C1331.4,244.3 1331.1,241.1 1332.1,238.9C1333.1,236.6 1335.5,235.5 1337.5,233.4C1339.5,231.4 1342.3,228.9 1344.3,226.6C1346.3,224.4 1348.4,222.3 1349.7,219.9C1351.1,217.4 1351.5,214 1352.4,211.7Z"/></clipPath><path d="M1352.4,211.7C1353.3,209.5 1353.6,207.8 1355.1,206.3C1356.7,204.8 1359.4,203.1 1361.9,202.9C1364.4,202.7 1368,203.5 1370.1,204.9C1372.2,206.4 1373.3,209.4 1374.4,211.7C1375.6,214 1376,219 1376.9,218.8C1377.7,218.5 1378.2,212.9 1379.6,210.4C1380.9,207.8 1383,204.9 1385,203.6C1387,202.2 1389.5,202 1391.8,202.2C1394.1,202.4 1396.7,203.5 1398.6,204.9C1400.4,206.3 1401.3,210.3 1402.9,210.6C1404.5,211 1406.1,207.3 1408.1,207C1410.1,206.6 1412.8,206.6 1414.9,208.3C1416.9,210 1419.1,215.1 1420.3,217.1C1421.5,219.2 1420.3,220.7 1421.9,220.8C1423.5,220.9 1427.1,218.2 1429.8,217.8C1432.5,217.4 1435.4,217.6 1437.9,218.5C1440.4,219.4 1443,221.2 1444.7,223.3C1446.4,225.3 1447.4,228.3 1448.1,230.7C1448.8,233.1 1448.5,235.6 1449.1,237.5C1449.7,239.4 1450.5,240.4 1451.8,242.3C1453.1,244.1 1455.7,245.3 1456.9,248.4C1458.1,251.4 1458.5,256.7 1459,260.6C1459.4,264.4 1459.4,268.4 1459.7,271.4C1459.9,274.4 1459.5,277.1 1460.6,278.5C1461.7,279.8 1464.1,279.5 1466.4,279.6C1468.8,279.6 1471.9,278.9 1474.6,278.9C1477.3,278.9 1480.5,278.8 1482.7,279.8C1485,280.9 1486.8,282.8 1488.2,285C1489.6,287.2 1490.2,290.9 1491.1,293.1C1492,295.4 1493,296.5 1493.6,298.6C1494.2,300.6 1495.1,302.9 1494.7,305.4C1494.2,307.9 1492.4,310.6 1490.9,313.5C1489.3,316.4 1487.1,319.6 1485.4,323C1483.7,326.4 1481.4,331.2 1480.7,333.9C1480,336.6 1481.9,337.3 1481.4,339.3C1480.8,341.3 1479.1,344.5 1477.3,346.1C1475.5,347.7 1472.8,347.9 1470.5,349.1C1468.2,350.2 1466,351.9 1463.7,352.9C1461.5,353.9 1459.2,354.1 1456.9,355C1454.7,355.9 1452.6,356.8 1450.2,358.3C1447.7,359.8 1444.7,362.6 1442,364C1439.3,365.4 1436.6,366.7 1433.9,366.4C1431.2,366.2 1427.6,364.2 1425.7,362.4C1423.8,360.6 1423.3,358.1 1422.3,355.6C1421.4,353 1421.7,347.6 1420,347.2C1418.3,346.7 1415,350.8 1412.1,352.9C1409.3,354.9 1405.8,358.1 1402.6,359.7C1399.5,361.2 1396.1,362.4 1393.1,362.4C1390.2,362.4 1387.7,360.8 1385,359.7C1382.3,358.5 1379.6,357.2 1376.9,355.6C1374.1,354 1371.4,351.7 1368.7,350.2C1366,348.6 1363.3,346.5 1360.6,346.1C1357.9,345.6 1355.1,347 1352.4,347.4C1349.7,347.9 1346.8,349.4 1344.3,348.8C1341.8,348.2 1338.9,345.3 1337.5,343.6C1336.1,342 1337.2,339.7 1335.9,339C1334.5,338.3 1332,339.1 1329.4,339.3C1326.7,339.5 1323,340.4 1319.9,340C1316.7,339.5 1312.8,338.3 1310.4,336.6C1307.9,334.9 1306.2,332.3 1304.9,329.8C1303.7,327.3 1302.9,324.1 1302.9,321.7C1302.9,319.2 1303.9,316.9 1304.9,314.9C1305.9,312.8 1307.5,311.5 1309,309.4C1310.5,307.4 1312.7,305.1 1313.8,302.6C1314.8,300.2 1314.5,297 1315.1,294.5C1315.7,292 1315.9,289.8 1317.1,287.7C1318.4,285.7 1320.3,283.8 1322.6,282.3C1324.8,280.8 1328.4,279.8 1330.7,278.9C1333,278 1335.3,278.1 1336.4,276.9C1337.5,275.6 1337.8,273.7 1337.5,271.4C1337.2,269.2 1335.7,266 1334.8,263.3C1333.9,260.6 1332.6,257.9 1332.1,255.1C1331.5,252.4 1331.4,249.7 1331.4,247C1331.4,244.3 1331.1,241.1 1332.1,238.9C1333.1,236.6 1335.5,235.5 1337.5,233.4C1339.5,231.4 1342.3,228.9 1344.3,226.6C1346.3,224.4 1348.4,222.3 1349.7,219.9C1351.1,217.4 1351.5,214 1352.4,211.7Z" fill="#93b2ec"/><g clip-path="url(#bl1)" fill="#abb9e6" opacity="0.95"><ellipse cx="1297.8" cy="210.7" rx="9.7" ry="11.4" transform="rotate(65 1297.8 210.7)"/><ellipse cx="1324" cy="201.7" rx="11" ry="9.7" transform="rotate(16 1324 201.7)"/><ellipse cx="1349.7" cy="203" rx="10.2" ry="11.7" transform="rotate(170 1349.7 203)"/><ellipse cx="1364.4" cy="215.5" rx="9.6" ry="12.5" transform="rotate(52 1364.4 215.5)"/><ellipse cx="1381.3" cy="205.7" rx="12.4" ry="10.1" transform="rotate(104 1381.3 205.7)"/><ellipse cx="1406" cy="209.2" rx="9.7" ry="9.7" transform="rotate(37 1406 209.2)"/><ellipse cx="1427.8" cy="205.8" rx="11.5" ry="11.1" transform="rotate(53 1427.8 205.8)"/><ellipse cx="1452.8" cy="204.8" rx="11.5" ry="11.3" transform="rotate(157 1452.8 204.8)"/><ellipse cx="1467.8" cy="215.6" rx="9.9" ry="10.9" transform="rotate(136 1467.8 215.6)"/><ellipse cx="1491.7" cy="201.7" rx="11.8" ry="12.2" transform="rotate(103 1491.7 201.7)"/><ellipse cx="1510.2" cy="211.4" rx="11.6" ry="11.5" transform="rotate(82 1510.2 211.4)"/><ellipse cx="1319.9" cy="226.2" rx="11.8" ry="9.7" transform="rotate(126 1319.9 226.2)"/><ellipse cx="1341.6" cy="231.3" rx="10.5" ry="10.8" transform="rotate(120 1341.6 231.3)"/><ellipse cx="1354.8" cy="221.7" rx="9.9" ry="9.7" transform="rotate(138 1354.8 221.7)"/><ellipse cx="1372.7" cy="225" rx="12.6" ry="9.7" transform="rotate(80 1372.7 225)"/><ellipse cx="1403" cy="231.3" rx="12.5" ry="10.4" transform="rotate(74 1403 231.3)"/><ellipse cx="1424" cy="233.3" rx="10" ry="10.1" transform="rotate(41 1424 233.3)"/><ellipse cx="1439.2" cy="227.9" rx="10.4" ry="9.5" transform="rotate(75 1439.2 227.9)"/><ellipse cx="1461.4" cy="233.2" rx="11.9" ry="11.3" transform="rotate(111 1461.4 233.2)"/><ellipse cx="1474.8" cy="232.4" rx="12.2" ry="12.6" transform="rotate(143 1474.8 232.4)"/><ellipse cx="1500.9" cy="220.7" rx="11.7" ry="9.7" transform="rotate(12 1500.9 220.7)"/><ellipse cx="1297.9" cy="242.3" rx="9.6" ry="9.5" transform="rotate(27 1297.9 242.3)"/><ellipse cx="1321.9" cy="237.7" rx="12.6" ry="11.6" transform="rotate(26 1321.9 237.7)"/><ellipse cx="1342.7" cy="242.6" rx="9.9" ry="12.5" transform="rotate(178 1342.7 242.6)"/><ellipse cx="1365.7" cy="238.5" rx="9.8" ry="10.7" transform="rotate(47 1365.7 238.5)"/><ellipse cx="1381.9" cy="237.6" rx="12.8" ry="11.3" transform="rotate(26 1381.9 237.6)"/><ellipse cx="1400.9" cy="245" rx="12.9" ry="12.5" transform="rotate(125 1400.9 245)"/><ellipse cx="1426.9" cy="239.7" rx="12.2" ry="11.4" transform="rotate(140 1426.9 239.7)"/><ellipse cx="1445.8" cy="249.2" rx="13" ry="12.5" transform="rotate(145 1445.8 249.2)"/><ellipse cx="1474.4" cy="240.6" rx="11.3" ry="10.7" transform="rotate(5 1474.4 240.6)"/><ellipse cx="1488.7" cy="241.1" rx="11.9" ry="12.9" transform="rotate(80 1488.7 241.1)"/><ellipse cx="1520.1" cy="251.3" rx="10.8" ry="10.2" transform="rotate(40 1520.1 251.3)"/><ellipse cx="1309" cy="264.5" rx="12.7" ry="12.5" transform="rotate(86 1309 264.5)"/><ellipse cx="1338.8" cy="256.6" rx="11.8" ry="12.7" transform="rotate(140 1338.8 256.6)"/><ellipse cx="1355.1" cy="258" rx="12.3" ry="10.6" transform="rotate(144 1355.1 258)"/><ellipse cx="1374.9" cy="261.2" rx="12.8" ry="12" transform="rotate(30 1374.9 261.2)"/><ellipse cx="1392.3" cy="268.6" rx="12.3" ry="10" transform="rotate(148 1392.3 268.6)"/><ellipse cx="1420.7" cy="260.5" rx="11.4" ry="9.9" transform="rotate(2 1420.7 260.5)"/><ellipse cx="1441.6" cy="263.1" rx="12.8" ry="11" transform="rotate(156 1441.6 263.1)"/><ellipse cx="1456.1" cy="259" rx="10.5" ry="10.3" transform="rotate(105 1456.1 259)"/><ellipse cx="1480.2" cy="257.3" rx="12.7" ry="10.7" transform="rotate(82 1480.2 257.3)"/><ellipse cx="1508.3" cy="261.5" rx="12.7" ry="11.2" transform="rotate(95 1508.3 261.5)"/><ellipse cx="1295.8" cy="279.9" rx="10.1" ry="9.5" transform="rotate(143 1295.8 279.9)"/><ellipse cx="1323.5" cy="284.1" rx="11.4" ry="10.6" transform="rotate(93 1323.5 284.1)"/><ellipse cx="1349.1" cy="275" rx="11.5" ry="10.3" transform="rotate(49 1349.1 275)"/><ellipse cx="1366" cy="281.7" rx="12.2" ry="12.7" transform="rotate(79 1366 281.7)"/><ellipse cx="1387" cy="280.9" rx="11.9" ry="11.1" transform="rotate(95 1387 280.9)"/><ellipse cx="1414.4" cy="283.7" rx="12.6" ry="12.8" transform="rotate(46 1414.4 283.7)"/><ellipse cx="1435.4" cy="285.8" rx="9.9" ry="9.9" transform="rotate(79 1435.4 285.8)"/><ellipse cx="1446.1" cy="274.5" rx="11.8" ry="12.2" transform="rotate(161 1446.1 274.5)"/><ellipse cx="1474.1" cy="283.1" rx="10" ry="12.6" transform="rotate(174 1474.1 283.1)"/><ellipse cx="1498.5" cy="279.3" rx="11.2" ry="13" transform="rotate(149 1498.5 279.3)"/><ellipse cx="1511.9" cy="281" rx="10.7" ry="10.1" transform="rotate(57 1511.9 281)"/><ellipse cx="1306.3" cy="299.6" rx="11" ry="9.5" transform="rotate(59 1306.3 299.6)"/><ellipse cx="1334.6" cy="292.4" rx="13" ry="12.3" transform="rotate(174 1334.6 292.4)"/><ellipse cx="1351.9" cy="292" rx="12.2" ry="10.4" transform="rotate(23 1351.9 292)"/><ellipse cx="1382.4" cy="303.5" rx="10.4" ry="10" transform="rotate(165 1382.4 303.5)"/><ellipse cx="1400.3" cy="292.8" rx="9.7" ry="11.9" transform="rotate(76 1400.3 292.8)"/><ellipse cx="1424.8" cy="300.8" rx="12.3" ry="9.7" transform="rotate(154 1424.8 300.8)"/><ellipse cx="1444.7" cy="298.1" rx="10.7" ry="11.4" transform="rotate(166 1444.7 298.1)"/><ellipse cx="1454.9" cy="299.2" rx="10.3" ry="9.8" transform="rotate(29 1454.9 299.2)"/><ellipse cx="1477" cy="296.1" rx="10.5" ry="12.2" transform="rotate(52 1477 296.1)"/><ellipse cx="1497.7" cy="296.6" rx="9.5" ry="10.3" transform="rotate(2 1497.7 296.6)"/><ellipse cx="1303.6" cy="312.3" rx="11.1" ry="12.8" transform="rotate(19 1303.6 312.3)"/><ellipse cx="1322.9" cy="316.8" rx="12.4" ry="10.9" transform="rotate(91 1322.9 316.8)"/><ellipse cx="1352" cy="314.6" rx="12.4" ry="12" transform="rotate(114 1352 314.6)"/><ellipse cx="1363.7" cy="310.3" rx="9.9" ry="9.7" transform="rotate(133 1363.7 310.3)"/><ellipse cx="1381.9" cy="310.8" rx="12.5" ry="12.6" transform="rotate(120 1381.9 310.8)"/><ellipse cx="1404.1" cy="313.8" rx="11.1" ry="10" transform="rotate(80 1404.1 313.8)"/><ellipse cx="1435.7" cy="323.8" rx="11.4" ry="10.3" transform="rotate(173 1435.7 323.8)"/><ellipse cx="1447.8" cy="309.5" rx="10.8" ry="11.1" transform="rotate(90 1447.8 309.5)"/><ellipse cx="1471" cy="309.6" rx="10.4" ry="9.8" transform="rotate(71 1471 309.6)"/><ellipse cx="1484.9" cy="314" rx="10.3" ry="11.5" transform="rotate(95 1484.9 314)"/><ellipse cx="1515.2" cy="320.1" rx="12.6" ry="10.8" transform="rotate(58 1515.2 320.1)"/><ellipse cx="1308.2" cy="338.2" rx="11.7" ry="9.6" transform="rotate(150 1308.2 338.2)"/><ellipse cx="1336.3" cy="338.4" rx="12.3" ry="9.9" transform="rotate(94 1336.3 338.4)"/><ellipse cx="1360.3" cy="339.4" rx="12.4" ry="11.5" transform="rotate(160 1360.3 339.4)"/><ellipse cx="1379.2" cy="331" rx="9.6" ry="9.9" transform="rotate(64 1379.2 331)"/><ellipse cx="1402.3" cy="335.8" rx="11.7" ry="11.7" transform="rotate(122 1402.3 335.8)"/><ellipse cx="1411.1" cy="339.3" rx="12.1" ry="11.2" transform="rotate(96 1411.1 339.3)"/><ellipse cx="1433" cy="338.4" rx="10.4" ry="9.7" transform="rotate(47 1433 338.4)"/><ellipse cx="1456.1" cy="338.5" rx="12.9" ry="11.2" transform="rotate(68 1456.1 338.5)"/><ellipse cx="1484.1" cy="338.9" rx="11.7" ry="11.7" transform="rotate(13 1484.1 338.9)"/><ellipse cx="1498.8" cy="338.5" rx="10.5" ry="11.5" transform="rotate(2 1498.8 338.5)"/><ellipse cx="1299.5" cy="355.5" rx="11.9" ry="11.9" transform="rotate(52 1299.5 355.5)"/><ellipse cx="1323.4" cy="352.5" rx="9.9" ry="12.6" transform="rotate(35 1323.4 352.5)"/><ellipse cx="1351.3" cy="345.9" rx="11.1" ry="12.4" transform="rotate(174 1351.3 345.9)"/><ellipse cx="1362.5" cy="348.7" rx="12.8" ry="10.2" transform="rotate(104 1362.5 348.7)"/><ellipse cx="1387.2" cy="359.7" rx="9.9" ry="12.4" transform="rotate(91 1387.2 359.7)"/><ellipse cx="1410.9" cy="349" rx="12.7" ry="11.2" transform="rotate(4 1410.9 349)"/><ellipse cx="1428.8" cy="352.3" rx="10.5" ry="10" transform="rotate(61 1428.8 352.3)"/><ellipse cx="1454.9" cy="345.7" rx="12.1" ry="12.4" transform="rotate(21 1454.9 345.7)"/><ellipse cx="1474" cy="358.9" rx="10.5" ry="10.8" transform="rotate(70 1474 358.9)"/><ellipse cx="1493.2" cy="350.9" rx="11" ry="10.4" transform="rotate(8 1493.2 350.9)"/><ellipse cx="1517.8" cy="349.8" rx="12.8" ry="10.3" transform="rotate(47 1517.8 349.8)"/><ellipse cx="1308.8" cy="369.2" rx="12.9" ry="12.6" transform="rotate(146 1308.8 369.2)"/><ellipse cx="1340.5" cy="377.5" rx="11.4" ry="12" transform="rotate(8 1340.5 377.5)"/><ellipse cx="1354.7" cy="374.8" rx="11.8" ry="10.5" transform="rotate(8 1354.7 374.8)"/><ellipse cx="1370.9" cy="370.6" rx="10.7" ry="10.5" transform="rotate(133 1370.9 370.6)"/><ellipse cx="1393.9" cy="373.3" rx="10.5" ry="11.4" transform="rotate(70 1393.9 373.3)"/><ellipse cx="1413.4" cy="366.8" rx="12.7" ry="11.2" transform="rotate(39 1413.4 366.8)"/><ellipse cx="1446.7" cy="370.3" rx="9.9" ry="10.1" transform="rotate(16 1446.7 370.3)"/><ellipse cx="1454.4" cy="367.2" rx="10.4" ry="11.5" transform="rotate(159 1454.4 367.2)"/><ellipse cx="1480.1" cy="369.8" rx="11.3" ry="10.8" transform="rotate(60 1480.1 369.8)"/><ellipse cx="1499.1" cy="377.9" rx="9.9" ry="11.2" transform="rotate(113 1499.1 377.9)"/></g><path d="M1352.4,211.7C1353.3,209.5 1353.6,207.8 1355.1,206.3C1356.7,204.8 1359.4,203.1 1361.9,202.9C1364.4,202.7 1368,203.5 1370.1,204.9C1372.2,206.4 1373.3,209.4 1374.4,211.7C1375.6,214 1376,219 1376.9,218.8C1377.7,218.5 1378.2,212.9 1379.6,210.4C1380.9,207.8 1383,204.9 1385,203.6C1387,202.2 1389.5,202 1391.8,202.2C1394.1,202.4 1396.7,203.5 1398.6,204.9C1400.4,206.3 1401.3,210.3 1402.9,210.6C1404.5,211 1406.1,207.3 1408.1,207C1410.1,206.6 1412.8,206.6 1414.9,208.3C1416.9,210 1419.1,215.1 1420.3,217.1C1421.5,219.2 1420.3,220.7 1421.9,220.8C1423.5,220.9 1427.1,218.2 1429.8,217.8C1432.5,217.4 1435.4,217.6 1437.9,218.5C1440.4,219.4 1443,221.2 1444.7,223.3C1446.4,225.3 1447.4,228.3 1448.1,230.7C1448.8,233.1 1448.5,235.6 1449.1,237.5C1449.7,239.4 1450.5,240.4 1451.8,242.3C1453.1,244.1 1455.7,245.3 1456.9,248.4C1458.1,251.4 1458.5,256.7 1459,260.6C1459.4,264.4 1459.4,268.4 1459.7,271.4C1459.9,274.4 1459.5,277.1 1460.6,278.5C1461.7,279.8 1464.1,279.5 1466.4,279.6C1468.8,279.6 1471.9,278.9 1474.6,278.9C1477.3,278.9 1480.5,278.8 1482.7,279.8C1485,280.9 1486.8,282.8 1488.2,285C1489.6,287.2 1490.2,290.9 1491.1,293.1C1492,295.4 1493,296.5 1493.6,298.6C1494.2,300.6 1495.1,302.9 1494.7,305.4C1494.2,307.9 1492.4,310.6 1490.9,313.5C1489.3,316.4 1487.1,319.6 1485.4,323C1483.7,326.4 1481.4,331.2 1480.7,333.9C1480,336.6 1481.9,337.3 1481.4,339.3C1480.8,341.3 1479.1,344.5 1477.3,346.1C1475.5,347.7 1472.8,347.9 1470.5,349.1C1468.2,350.2 1466,351.9 1463.7,352.9C1461.5,353.9 1459.2,354.1 1456.9,355C1454.7,355.9 1452.6,356.8 1450.2,358.3C1447.7,359.8 1444.7,362.6 1442,364C1439.3,365.4 1436.6,366.7 1433.9,366.4C1431.2,366.2 1427.6,364.2 1425.7,362.4C1423.8,360.6 1423.3,358.1 1422.3,355.6C1421.4,353 1421.7,347.6 1420,347.2C1418.3,346.7 1415,350.8 1412.1,352.9C1409.3,354.9 1405.8,358.1 1402.6,359.7C1399.5,361.2 1396.1,362.4 1393.1,362.4C1390.2,362.4 1387.7,360.8 1385,359.7C1382.3,358.5 1379.6,357.2 1376.9,355.6C1374.1,354 1371.4,351.7 1368.7,350.2C1366,348.6 1363.3,346.5 1360.6,346.1C1357.9,345.6 1355.1,347 1352.4,347.4C1349.7,347.9 1346.8,349.4 1344.3,348.8C1341.8,348.2 1338.9,345.3 1337.5,343.6C1336.1,342 1337.2,339.7 1335.9,339C1334.5,338.3 1332,339.1 1329.4,339.3C1326.7,339.5 1323,340.4 1319.9,340C1316.7,339.5 1312.8,338.3 1310.4,336.6C1307.9,334.9 1306.2,332.3 1304.9,329.8C1303.7,327.3 1302.9,324.1 1302.9,321.7C1302.9,319.2 1303.9,316.9 1304.9,314.9C1305.9,312.8 1307.5,311.5 1309,309.4C1310.5,307.4 1312.7,305.1 1313.8,302.6C1314.8,300.2 1314.5,297 1315.1,294.5C1315.7,292 1315.9,289.8 1317.1,287.7C1318.4,285.7 1320.3,283.8 1322.6,282.3C1324.8,280.8 1328.4,279.8 1330.7,278.9C1333,278 1335.3,278.1 1336.4,276.9C1337.5,275.6 1337.8,273.7 1337.5,271.4C1337.2,269.2 1335.7,266 1334.8,263.3C1333.9,260.6 1332.6,257.9 1332.1,255.1C1331.5,252.4 1331.4,249.7 1331.4,247C1331.4,244.3 1331.1,241.1 1332.1,238.9C1333.1,236.6 1335.5,235.5 1337.5,233.4C1339.5,231.4 1342.3,228.9 1344.3,226.6C1346.3,224.4 1348.4,222.3 1349.7,219.9C1351.1,217.4 1351.5,214 1352.4,211.7Z" fill="none" stroke="#6b8cd0" stroke-width="2.2" stroke-linejoin="round"/></g>
<path d="M1290,329.3 H1323" fill="none" stroke="#333" stroke-width="2.7" />
<g><rect x="1434.2" y="308.5" width="3" height="20.6" fill="#b9b9b9"/><rect x="1439.8" y="308.5" width="2.3" height="20.6" fill="url(#tickH)" opacity="0.7"/><rect x="1446.3" y="308.5" width="2.3" height="20.6" fill="url(#tickH)" opacity="0.7"/><rect x="1452.8" y="308.5" width="2.3" height="20.6" fill="url(#tickH)" opacity="0.7"/><rect x="1459.3" y="308.5" width="2.3" height="20.6" fill="url(#tickH)" opacity="0.7"/><rect x="1465.8" y="308.5" width="2.3" height="20.6" fill="url(#tickH)" opacity="0.7"/><rect x="1472.3" y="308.5" width="2.3" height="20.6" fill="url(#tickH)" opacity="0.7"/><rect x="1478.8" y="308.5" width="2.3" height="20.6" fill="url(#tickH)" opacity="0.7"/><rect x="1485.3" y="308.5" width="2.3" height="20.6" fill="url(#tickH)" opacity="0.7"/><rect x="1491.8" y="308.5" width="2.3" height="20.6" fill="url(#tickH)" opacity="0.7"/><rect x="1498.3" y="308.5" width="2.3" height="20.6" fill="url(#tickH)"/><rect x="1528.2" y="308.5" width="2.3" height="20.6" fill="url(#tickH)"/><rect x="1534.7" y="308.5" width="2.3" height="20.6" fill="url(#tickH)"/><rect x="1541.2" y="308.5" width="2.3" height="20.6" fill="url(#tickH)"/><rect x="1547.7" y="308.5" width="2.3" height="20.6" fill="url(#tickH)"/><rect x="1554.2" y="308.5" width="2.3" height="20.6" fill="url(#tickH)"/><rect x="1560.7" y="308.5" width="2.3" height="20.6" fill="url(#tickH)"/><rect x="1567.2" y="308.5" width="2.3" height="20.6" fill="url(#tickH)"/><rect x="1573.7" y="308.5" width="2.3" height="20.6" fill="url(#tickH)"/><rect x="1580.2" y="308.5" width="2.3" height="20.6" fill="url(#tickH)"/><rect x="1586.7" y="308.5" width="2.3" height="20.6" fill="url(#tickH)"/><rect x="1593.2" y="308.5" width="2.3" height="20.6" fill="url(#tickH)"/><rect x="1439.7" y="318.8" width="2.3" height="10.3" fill="#62bdd9"/><rect x="1603.2" y="308.5" width="2.3" height="8.5" fill="#8f8ec0"/><rect x="1608.6" y="308.5" width="2.3" height="8.5" fill="#8f8ec0"/><path d="M1453.6,308.5 H1436.5 Q1431.8,308.5 1428.1,306.1 A19.3,19.3 0 1 0 1428.1,331.5 Q1431.8,329.1 1436.5,329.1 H1438.8" fill="none" stroke="#868686" stroke-width="3" stroke-linejoin="round"/><path d="M1453.6,308.5 H1505.3 Q1506.7,308.5 1506.7,307.2 C1506.7,301.9 1511.1,297.6 1516.6,297.6 C1522.1,297.6 1526.5,301.9 1526.5,307.2 Q1526.5,308.5 1527.9,308.5 H1613.8" fill="none" stroke="#252c73" stroke-width="3.3"/><path d="M1438.8,329.1 H1505.3 Q1506.7,329.1 1506.7,330.4 C1506.7,335.7 1511.1,340 1516.6,340 C1522.1,340 1526.5,335.7 1526.5,330.4 Q1526.5,329.1 1527.9,329.1 H1599.8" fill="none" stroke="#1b6a98" stroke-width="3.3"/></g>
<rect x="1336.8" y="242.9" width="123" height="44.1" rx="6" fill="#ffffff" fill-opacity="0.68"/>
<g>
<rect x="1560.3" y="476" width="2.6" height="11" fill="url(#tickB)"/>
<rect x="1567.8" y="476" width="2.6" height="11" fill="url(#tickB)"/>
<rect x="1575.4" y="476" width="2.6" height="11" fill="url(#tickB)"/>
<rect x="1582.9" y="476" width="2.6" height="11" fill="url(#tickB)"/>
<rect x="1590.5" y="476" width="2.6" height="11" fill="url(#tickB)"/>
<rect x="1598" y="476" width="2.6" height="11" fill="url(#tickB)"/>
<rect x="1605.6" y="476" width="2.6" height="11" fill="url(#tickB)"/>
<rect x="1613.1" y="476" width="2.6" height="11" fill="url(#tickB)"/>
<rect x="1620.7" y="476" width="2.6" height="11" fill="url(#tickB)"/>
<rect x="1628.2" y="476" width="2.6" height="11" fill="url(#tickB)"/>
<rect x="1658.4" y="476" width="2.6" height="11" fill="url(#tickB)"/>
<rect x="1666" y="476" width="2.6" height="11" fill="url(#tickB)"/>
<rect x="1673.5" y="476" width="2.6" height="11" fill="url(#tickB)"/>
<rect x="1681.1" y="476" width="2.6" height="11" fill="url(#tickB)"/>
<rect x="1688.6" y="476" width="2.6" height="11" fill="url(#tickB)"/>
<rect x="1696.2" y="476" width="2.6" height="11" fill="url(#tickB)"/>
<rect x="1703.7" y="476" width="2.6" height="11" fill="url(#tickB)"/>
<rect x="1711.3" y="476" width="2.6" height="11" fill="url(#tickB)"/>
<rect x="1718.8" y="476" width="2.6" height="11" fill="url(#tickB)"/>
<rect x="1726.4" y="476" width="2.6" height="11" fill="url(#tickB)"/>
<rect x="1733.9" y="476" width="2.6" height="11" fill="url(#tickB)"/>
<path d="M1558.5,487.3 H1631 Q1632.8,487.3 1632.8,488.9 C1632.8,494.8 1637.9,499.5 1644.2,499.5 C1650.5,499.5 1655.6,494.8 1655.6,488.9 Q1655.6,487.3 1657.4,487.3 H1736" fill="none" stroke="#1b6a98" stroke-width="3.4"/>
</g>
<linearGradient id="tickP" x1="0" y1="0" x2="0" y2="1"><stop offset="0" stop-color="#3b1d5a"/><stop offset="0.35" stop-color="#5e3f80"/><stop offset="1" stop-color="#b09cc8"/></linearGradient>
<linearGradient id="tickG" x1="0" y1="0" x2="0" y2="1"><stop offset="0" stop-color="#62d862"/><stop offset="1" stop-color="#25c225"/></linearGradient>
<linearGradient id="tickB" x1="0" y1="0" x2="0" y2="1"><stop offset="0" stop-color="#8fcfe6"/><stop offset="1" stop-color="#4aa6ca"/></linearGradient>
<g ><clipPath id="bl2"><path d="M1421.4,531.4C1424.3,532.1 1429.8,534.5 1432.9,537.1C1436,539.8 1438.1,544.5 1440,547.1C1441.9,549.8 1442.4,551 1444.3,552.9C1446.2,554.8 1449.8,556.2 1451.4,558.6C1453.1,561 1454.2,564 1454.3,567.1C1454.3,570.2 1451.9,574.8 1451.7,577.1C1451.5,579.5 1451.5,580.3 1453.1,581.4C1454.8,582.6 1458.1,583.3 1461.4,584C1464.7,584.7 1469.3,584 1472.9,585.7C1476.4,587.4 1480.2,591.2 1482.9,594.3C1485.5,597.4 1487.4,601.4 1488.6,604.3C1489.8,607.1 1488.8,609 1490,611.4C1491.2,613.8 1493.8,616.5 1495.7,618.6C1497.6,620.6 1500.7,621.4 1501.4,623.6C1502.1,625.7 1501.9,629.4 1500,631.4C1498.1,633.5 1493,634.7 1490,635.7C1487,636.7 1482.4,636.2 1482.1,637.4C1481.9,638.6 1487.3,640.5 1488.6,642.9C1489.9,645.2 1490.9,648.3 1490,651.4C1489.1,654.5 1484.8,658.3 1483.1,661.4C1481.5,664.5 1482,667.9 1480,670C1478,672.1 1474,671.9 1471.4,674.3C1468.8,676.7 1467.1,681.7 1464.3,684.3C1461.4,686.9 1457.6,688.8 1454.3,690C1451,691.2 1447.9,691.9 1444.3,691.4C1440.7,691 1437.1,688.3 1432.9,687.1C1428.6,686 1423.3,685 1418.6,684.3C1413.8,683.6 1408.3,682.2 1404.3,683.1C1400.2,684.1 1397.9,687.4 1394.3,690C1390.7,692.6 1386.4,697.3 1382.9,698.6C1379.3,699.8 1376.4,698.4 1372.9,697.4C1369.3,696.5 1364.3,695 1361.4,692.9C1358.6,690.7 1356.4,686.9 1355.7,684.3C1355,681.7 1359,679.5 1357.1,677.1C1355.2,674.8 1347.4,672.9 1344.3,670C1341.2,667.1 1340,663.3 1338.6,660C1337.1,656.7 1335.5,653.6 1335.7,650C1336,646.4 1338.8,641.7 1340,638.6C1341.2,635.5 1343.1,634 1343.1,631.4C1343.1,628.8 1339.5,625.4 1340,622.9C1340.5,620.3 1343.6,616.7 1346,616C1348.4,615.3 1352,618.6 1354.3,618.6C1356.6,618.5 1359.3,618.6 1360,615.7C1360.7,612.9 1358.3,605.7 1358.6,601.4C1358.8,597.1 1359.5,593.6 1361.4,590C1363.3,586.4 1366.7,583.1 1370,580C1373.3,576.9 1378.1,575.2 1381.4,571.4C1384.8,567.6 1387.1,560.5 1390,557.1C1392.9,553.8 1396,552.9 1398.6,551.4C1401.2,550 1403.8,550.7 1405.7,548.6C1407.6,546.4 1408.3,541.2 1410,538.6C1411.7,536 1413.8,534 1415.7,532.9C1417.6,531.7 1418.6,530.7 1421.4,531.4Z"/></clipPath><path d="M1421.4,531.4C1424.3,532.1 1429.8,534.5 1432.9,537.1C1436,539.8 1438.1,544.5 1440,547.1C1441.9,549.8 1442.4,551 1444.3,552.9C1446.2,554.8 1449.8,556.2 1451.4,558.6C1453.1,561 1454.2,564 1454.3,567.1C1454.3,570.2 1451.9,574.8 1451.7,577.1C1451.5,579.5 1451.5,580.3 1453.1,581.4C1454.8,582.6 1458.1,583.3 1461.4,584C1464.7,584.7 1469.3,584 1472.9,585.7C1476.4,587.4 1480.2,591.2 1482.9,594.3C1485.5,597.4 1487.4,601.4 1488.6,604.3C1489.8,607.1 1488.8,609 1490,611.4C1491.2,613.8 1493.8,616.5 1495.7,618.6C1497.6,620.6 1500.7,621.4 1501.4,623.6C1502.1,625.7 1501.9,629.4 1500,631.4C1498.1,633.5 1493,634.7 1490,635.7C1487,636.7 1482.4,636.2 1482.1,637.4C1481.9,638.6 1487.3,640.5 1488.6,642.9C1489.9,645.2 1490.9,648.3 1490,651.4C1489.1,654.5 1484.8,658.3 1483.1,661.4C1481.5,664.5 1482,667.9 1480,670C1478,672.1 1474,671.9 1471.4,674.3C1468.8,676.7 1467.1,681.7 1464.3,684.3C1461.4,686.9 1457.6,688.8 1454.3,690C1451,691.2 1447.9,691.9 1444.3,691.4C1440.7,691 1437.1,688.3 1432.9,687.1C1428.6,686 1423.3,685 1418.6,684.3C1413.8,683.6 1408.3,682.2 1404.3,683.1C1400.2,684.1 1397.9,687.4 1394.3,690C1390.7,692.6 1386.4,697.3 1382.9,698.6C1379.3,699.8 1376.4,698.4 1372.9,697.4C1369.3,696.5 1364.3,695 1361.4,692.9C1358.6,690.7 1356.4,686.9 1355.7,684.3C1355,681.7 1359,679.5 1357.1,677.1C1355.2,674.8 1347.4,672.9 1344.3,670C1341.2,667.1 1340,663.3 1338.6,660C1337.1,656.7 1335.5,653.6 1335.7,650C1336,646.4 1338.8,641.7 1340,638.6C1341.2,635.5 1343.1,634 1343.1,631.4C1343.1,628.8 1339.5,625.4 1340,622.9C1340.5,620.3 1343.6,616.7 1346,616C1348.4,615.3 1352,618.6 1354.3,618.6C1356.6,618.5 1359.3,618.6 1360,615.7C1360.7,612.9 1358.3,605.7 1358.6,601.4C1358.8,597.1 1359.5,593.6 1361.4,590C1363.3,586.4 1366.7,583.1 1370,580C1373.3,576.9 1378.1,575.2 1381.4,571.4C1384.8,567.6 1387.1,560.5 1390,557.1C1392.9,553.8 1396,552.9 1398.6,551.4C1401.2,550 1403.8,550.7 1405.7,548.6C1407.6,546.4 1408.3,541.2 1410,538.6C1411.7,536 1413.8,534 1415.7,532.9C1417.6,531.7 1418.6,530.7 1421.4,531.4Z" fill="#fad39b"/><g clip-path="url(#bl2)" fill="#f5dfba" opacity="0.95"><ellipse cx="1336.4" cy="535.8" rx="11.6" ry="11.7" transform="rotate(11 1336.4 535.8)"/><ellipse cx="1361.7" cy="534.2" rx="10.3" ry="13" transform="rotate(84 1361.7 534.2)"/><ellipse cx="1377.4" cy="539.8" rx="10" ry="11.7" transform="rotate(156 1377.4 539.8)"/><ellipse cx="1402.3" cy="540.2" rx="9.7" ry="12.2" transform="rotate(106 1402.3 540.2)"/><ellipse cx="1412.8" cy="543.1" rx="11.1" ry="12" transform="rotate(158 1412.8 543.1)"/><ellipse cx="1446.9" cy="536.2" rx="12.3" ry="11" transform="rotate(168 1446.9 536.2)"/><ellipse cx="1455.8" cy="532.4" rx="10.2" ry="12.9" transform="rotate(78 1455.8 532.4)"/><ellipse cx="1479.8" cy="537.8" rx="10.8" ry="10.7" transform="rotate(105 1479.8 537.8)"/><ellipse cx="1509.7" cy="540.4" rx="12.8" ry="12.5" transform="rotate(178 1509.7 540.4)"/><ellipse cx="1341.3" cy="561.1" rx="12.9" ry="12.7" transform="rotate(102 1341.3 561.1)"/><ellipse cx="1363" cy="560.7" rx="11.5" ry="10.5" transform="rotate(11 1363 560.7)"/><ellipse cx="1395.4" cy="549.7" rx="12.3" ry="10.9" transform="rotate(27 1395.4 549.7)"/><ellipse cx="1413.2" cy="561.3" rx="9.6" ry="11.6" transform="rotate(8 1413.2 561.3)"/><ellipse cx="1427.7" cy="561.4" rx="13" ry="11.3" transform="rotate(179 1427.7 561.4)"/><ellipse cx="1445" cy="557.3" rx="9.6" ry="10.2" transform="rotate(73 1445 557.3)"/><ellipse cx="1467.2" cy="549.1" rx="12.5" ry="10.6" transform="rotate(172 1467.2 549.1)"/><ellipse cx="1491.4" cy="555.2" rx="11.3" ry="11.7" transform="rotate(107 1491.4 555.2)"/><ellipse cx="1516" cy="562.3" rx="11.3" ry="11" transform="rotate(129 1516 562.3)"/><ellipse cx="1332.8" cy="580.9" rx="11.3" ry="11.4" transform="rotate(2 1332.8 580.9)"/><ellipse cx="1357.9" cy="566.8" rx="11.6" ry="11.7" transform="rotate(10 1357.9 566.8)"/><ellipse cx="1377.2" cy="576.5" rx="10.7" ry="12" transform="rotate(132 1377.2 576.5)"/><ellipse cx="1392.3" cy="576.4" rx="12.9" ry="10.3" transform="rotate(82 1392.3 576.4)"/><ellipse cx="1417.1" cy="571.8" rx="10.6" ry="10.8" transform="rotate(107 1417.1 571.8)"/><ellipse cx="1438.9" cy="577.9" rx="9.5" ry="11.5" transform="rotate(132 1438.9 577.9)"/><ellipse cx="1457.6" cy="578.3" rx="10.3" ry="10.1" transform="rotate(78 1457.6 578.3)"/><ellipse cx="1476.9" cy="571.2" rx="10.6" ry="12.4" transform="rotate(78 1476.9 571.2)"/><ellipse cx="1498.9" cy="571.4" rx="11.8" ry="12.6" transform="rotate(81 1498.9 571.4)"/><ellipse cx="1340.6" cy="592.3" rx="10.1" ry="12.3" transform="rotate(150 1340.6 592.3)"/><ellipse cx="1364" cy="596.4" rx="11.7" ry="12.3" transform="rotate(62 1364 596.4)"/><ellipse cx="1385.2" cy="596.2" rx="10.4" ry="10.7" transform="rotate(75 1385.2 596.2)"/><ellipse cx="1407.9" cy="598.1" rx="10" ry="9.5" transform="rotate(169 1407.9 598.1)"/><ellipse cx="1437.4" cy="590.9" rx="12.8" ry="12.8" transform="rotate(39 1437.4 590.9)"/><ellipse cx="1456.2" cy="594.3" rx="11.3" ry="10.5" transform="rotate(61 1456.2 594.3)"/><ellipse cx="1465.9" cy="593.2" rx="10.5" ry="12.3" transform="rotate(8 1465.9 593.2)"/><ellipse cx="1496.1" cy="598.1" rx="12.7" ry="12.7" transform="rotate(103 1496.1 598.1)"/><ellipse cx="1517.8" cy="587.1" rx="10.5" ry="11.8" transform="rotate(94 1517.8 587.1)"/><ellipse cx="1342.2" cy="611.6" rx="10.7" ry="10.4" transform="rotate(155 1342.2 611.6)"/><ellipse cx="1360.9" cy="607.8" rx="10.2" ry="11.4" transform="rotate(147 1360.9 607.8)"/><ellipse cx="1382" cy="616.2" rx="12.3" ry="12.4" transform="rotate(1 1382 616.2)"/><ellipse cx="1404" cy="603.4" rx="10.4" ry="10.4" transform="rotate(94 1404 603.4)"/><ellipse cx="1419.3" cy="614" rx="9.5" ry="9.6" transform="rotate(22 1419.3 614)"/><ellipse cx="1434.4" cy="616.9" rx="12.5" ry="9.8" transform="rotate(90 1434.4 616.9)"/><ellipse cx="1459" cy="607.8" rx="11.8" ry="11.5" transform="rotate(64 1459 607.8)"/><ellipse cx="1480.2" cy="604.4" rx="11.4" ry="12" transform="rotate(68 1480.2 604.4)"/><ellipse cx="1499" cy="608.1" rx="11.6" ry="12.2" transform="rotate(68 1499 608.1)"/><ellipse cx="1348" cy="627" rx="10.8" ry="11.2" transform="rotate(126 1348 627)"/><ellipse cx="1370.1" cy="627.5" rx="10.3" ry="11.4" transform="rotate(125 1370.1 627.5)"/><ellipse cx="1387.1" cy="626.9" rx="12.6" ry="12.8" transform="rotate(67 1387.1 626.9)"/><ellipse cx="1413.5" cy="624.5" rx="11.1" ry="9.9" transform="rotate(146 1413.5 624.5)"/><ellipse cx="1435.9" cy="632.3" rx="11.8" ry="12.1" transform="rotate(101 1435.9 632.3)"/><ellipse cx="1452.5" cy="620.8" rx="10" ry="12.2" transform="rotate(7 1452.5 620.8)"/><ellipse cx="1466.3" cy="633.6" rx="10.1" ry="9.5" transform="rotate(151 1466.3 633.6)"/><ellipse cx="1498.3" cy="630.6" rx="12.4" ry="12.9" transform="rotate(104 1498.3 630.6)"/><ellipse cx="1507.4" cy="632" rx="11.3" ry="12" transform="rotate(19 1507.4 632)"/><ellipse cx="1342.1" cy="639.6" rx="10.6" ry="11.5" transform="rotate(149 1342.1 639.6)"/><ellipse cx="1352" cy="642.4" rx="11.6" ry="12.1" transform="rotate(70 1352 642.4)"/><ellipse cx="1376.2" cy="643.9" rx="10.9" ry="9.7" transform="rotate(90 1376.2 643.9)"/><ellipse cx="1397.4" cy="649.7" rx="10" ry="11.9" transform="rotate(136 1397.4 649.7)"/><ellipse cx="1420" cy="645.8" rx="11.7" ry="12.7" transform="rotate(26 1420 645.8)"/><ellipse cx="1444.4" cy="652.2" rx="11.3" ry="11" transform="rotate(129 1444.4 652.2)"/><ellipse cx="1458.3" cy="641.7" rx="11.5" ry="10.6" transform="rotate(41 1458.3 641.7)"/><ellipse cx="1489.4" cy="643.1" rx="12" ry="10.9" transform="rotate(153 1489.4 643.1)"/><ellipse cx="1500.3" cy="641.9" rx="9.5" ry="11.2" transform="rotate(68 1500.3 641.9)"/><ellipse cx="1344.2" cy="661.5" rx="12.2" ry="10" transform="rotate(178 1344.2 661.5)"/><ellipse cx="1368.7" cy="663.7" rx="12.4" ry="12.4" transform="rotate(100 1368.7 663.7)"/><ellipse cx="1391.5" cy="669.4" rx="10.9" ry="12.1" transform="rotate(172 1391.5 669.4)"/><ellipse cx="1405.2" cy="660.2" rx="12" ry="11.9" transform="rotate(172 1405.2 660.2)"/><ellipse cx="1426.4" cy="659.6" rx="10.4" ry="10.1" transform="rotate(126 1426.4 659.6)"/><ellipse cx="1457.1" cy="660.5" rx="12.5" ry="10.6" transform="rotate(76 1457.1 660.5)"/><ellipse cx="1466.1" cy="658.2" rx="12.4" ry="10.5" transform="rotate(64 1466.1 658.2)"/><ellipse cx="1495.8" cy="656.9" rx="10.6" ry="11" transform="rotate(87 1495.8 656.9)"/><ellipse cx="1515.5" cy="670.8" rx="10.8" ry="11.4" transform="rotate(21 1515.5 670.8)"/><ellipse cx="1338.1" cy="676.5" rx="12.6" ry="12.7" transform="rotate(17 1338.1 676.5)"/><ellipse cx="1354.9" cy="686.2" rx="12.2" ry="10.5" transform="rotate(121 1354.9 686.2)"/><ellipse cx="1382.2" cy="678.8" rx="12.1" ry="12.9" transform="rotate(121 1382.2 678.8)"/><ellipse cx="1393" cy="682.1" rx="10.7" ry="12" transform="rotate(122 1393 682.1)"/><ellipse cx="1415" cy="684.3" rx="11.7" ry="10.1" transform="rotate(160 1415 684.3)"/><ellipse cx="1435.2" cy="688.6" rx="10" ry="10.6" transform="rotate(129 1435.2 688.6)"/><ellipse cx="1462.5" cy="684.4" rx="11.1" ry="10.6" transform="rotate(31 1462.5 684.4)"/><ellipse cx="1485.9" cy="685.9" rx="11.4" ry="12.1" transform="rotate(64 1485.9 685.9)"/><ellipse cx="1502" cy="687.7" rx="9.6" ry="11.3" transform="rotate(44 1502 687.7)"/><ellipse cx="1344.1" cy="697.8" rx="10.9" ry="11.4" transform="rotate(138 1344.1 697.8)"/><ellipse cx="1372.3" cy="694.6" rx="10.4" ry="9.8" transform="rotate(20 1372.3 694.6)"/><ellipse cx="1391.6" cy="695.6" rx="10.1" ry="10.9" transform="rotate(133 1391.6 695.6)"/><ellipse cx="1412.9" cy="701.6" rx="10" ry="10.9" transform="rotate(34 1412.9 701.6)"/><ellipse cx="1431.2" cy="695.9" rx="10.3" ry="12.2" transform="rotate(5 1431.2 695.9)"/><ellipse cx="1457" cy="706.9" rx="10.8" ry="11.4" transform="rotate(104 1457 706.9)"/><ellipse cx="1479.2" cy="703" rx="10.5" ry="12.5" transform="rotate(87 1479.2 703)"/><ellipse cx="1496.5" cy="693" rx="12.2" ry="11.8" transform="rotate(88 1496.5 693)"/><ellipse cx="1513.6" cy="695.8" rx="11.3" ry="9.6" transform="rotate(90 1513.6 695.8)"/><ellipse cx="1334.9" cy="719.3" rx="12.9" ry="12.6" transform="rotate(24 1334.9 719.3)"/><ellipse cx="1358.5" cy="711.7" rx="10.7" ry="10.3" transform="rotate(14 1358.5 711.7)"/><ellipse cx="1384" cy="715.7" rx="12.6" ry="11.9" transform="rotate(24 1384 715.7)"/><ellipse cx="1400.2" cy="724.6" rx="12" ry="12.1" transform="rotate(61 1400.2 724.6)"/><ellipse cx="1426.1" cy="723.6" rx="11" ry="12.2" transform="rotate(87 1426.1 723.6)"/><ellipse cx="1434" cy="712.1" rx="10.2" ry="10" transform="rotate(89 1434 712.1)"/><ellipse cx="1462.3" cy="717.2" rx="11.8" ry="10.5" transform="rotate(83 1462.3 717.2)"/><ellipse cx="1481.3" cy="713.6" rx="12.7" ry="12" transform="rotate(66 1481.3 713.6)"/><ellipse cx="1504.1" cy="719.7" rx="10.2" ry="9.5" transform="rotate(37 1504.1 719.7)"/></g><path d="M1421.4,531.4C1424.3,532.1 1429.8,534.5 1432.9,537.1C1436,539.8 1438.1,544.5 1440,547.1C1441.9,549.8 1442.4,551 1444.3,552.9C1446.2,554.8 1449.8,556.2 1451.4,558.6C1453.1,561 1454.2,564 1454.3,567.1C1454.3,570.2 1451.9,574.8 1451.7,577.1C1451.5,579.5 1451.5,580.3 1453.1,581.4C1454.8,582.6 1458.1,583.3 1461.4,584C1464.7,584.7 1469.3,584 1472.9,585.7C1476.4,587.4 1480.2,591.2 1482.9,594.3C1485.5,597.4 1487.4,601.4 1488.6,604.3C1489.8,607.1 1488.8,609 1490,611.4C1491.2,613.8 1493.8,616.5 1495.7,618.6C1497.6,620.6 1500.7,621.4 1501.4,623.6C1502.1,625.7 1501.9,629.4 1500,631.4C1498.1,633.5 1493,634.7 1490,635.7C1487,636.7 1482.4,636.2 1482.1,637.4C1481.9,638.6 1487.3,640.5 1488.6,642.9C1489.9,645.2 1490.9,648.3 1490,651.4C1489.1,654.5 1484.8,658.3 1483.1,661.4C1481.5,664.5 1482,667.9 1480,670C1478,672.1 1474,671.9 1471.4,674.3C1468.8,676.7 1467.1,681.7 1464.3,684.3C1461.4,686.9 1457.6,688.8 1454.3,690C1451,691.2 1447.9,691.9 1444.3,691.4C1440.7,691 1437.1,688.3 1432.9,687.1C1428.6,686 1423.3,685 1418.6,684.3C1413.8,683.6 1408.3,682.2 1404.3,683.1C1400.2,684.1 1397.9,687.4 1394.3,690C1390.7,692.6 1386.4,697.3 1382.9,698.6C1379.3,699.8 1376.4,698.4 1372.9,697.4C1369.3,696.5 1364.3,695 1361.4,692.9C1358.6,690.7 1356.4,686.9 1355.7,684.3C1355,681.7 1359,679.5 1357.1,677.1C1355.2,674.8 1347.4,672.9 1344.3,670C1341.2,667.1 1340,663.3 1338.6,660C1337.1,656.7 1335.5,653.6 1335.7,650C1336,646.4 1338.8,641.7 1340,638.6C1341.2,635.5 1343.1,634 1343.1,631.4C1343.1,628.8 1339.5,625.4 1340,622.9C1340.5,620.3 1343.6,616.7 1346,616C1348.4,615.3 1352,618.6 1354.3,618.6C1356.6,618.5 1359.3,618.6 1360,615.7C1360.7,612.9 1358.3,605.7 1358.6,601.4C1358.8,597.1 1359.5,593.6 1361.4,590C1363.3,586.4 1366.7,583.1 1370,580C1373.3,576.9 1378.1,575.2 1381.4,571.4C1384.8,567.6 1387.1,560.5 1390,557.1C1392.9,553.8 1396,552.9 1398.6,551.4C1401.2,550 1403.8,550.7 1405.7,548.6C1407.6,546.4 1408.3,541.2 1410,538.6C1411.7,536 1413.8,534 1415.7,532.9C1417.6,531.7 1418.6,530.7 1421.4,531.4Z" fill="none" stroke="#d8a861" stroke-width="2" stroke-linejoin="round"/></g>
<g><rect x="1326.5" y="621.4" width="2.1" height="10.5" fill="url(#tickP)"/><rect x="1334" y="621.4" width="2.1" height="10.5" fill="url(#tickP)"/><rect x="1341.6" y="621.4" width="2.1" height="10.5" fill="url(#tickP)"/><rect x="1349.1" y="621.4" width="2.1" height="10.5" fill="url(#tickP)"/><rect x="1356.7" y="621.4" width="2.1" height="10.5" fill="url(#tickP)"/><rect x="1364.2" y="621.4" width="2.1" height="10.5" fill="url(#tickP)"/><rect x="1371.8" y="621.4" width="2.1" height="10.5" fill="url(#tickP)"/><rect x="1379.3" y="621.4" width="2.1" height="10.5" fill="url(#tickP)"/><rect x="1386.9" y="621.4" width="2.1" height="10.5" fill="url(#tickP)"/><rect x="1394.4" y="621.4" width="2.1" height="10.5" fill="url(#tickP)"/><rect x="1432.2" y="621.4" width="2.1" height="10.5" fill="url(#tickP)"/><rect x="1439.7" y="621.4" width="2.1" height="10.5" fill="url(#tickP)"/><rect x="1447.3" y="621.4" width="2.1" height="10.5" fill="url(#tickP)"/><rect x="1454.8" y="621.4" width="2.1" height="10.5" fill="url(#tickP)"/><rect x="1462.4" y="621.4" width="2.1" height="10.5" fill="url(#tickP)"/><rect x="1469.9" y="621.4" width="2.1" height="10.5" fill="url(#tickP)"/><rect x="1477.5" y="621.4" width="2.1" height="10.5" fill="url(#tickP)"/><rect x="1485" y="621.4" width="2.1" height="10.5" fill="url(#tickP)"/><rect x="1492.6" y="621.4" width="2.1" height="10.5" fill="url(#tickP)"/><rect x="1500.1" y="621.4" width="2.1" height="10.5" fill="url(#tickP)"/><path d="M1324.3,621.4 H1402.8 Q1404.6,621.4 1404.6,619.8 C1404.6,613.9 1409.7,609.2 1416,609.2 C1422.3,609.2 1427.4,613.9 1427.4,619.8 Q1427.4,621.4 1429.2,621.4 H1501.4" fill="none" stroke="#3b1d5a" stroke-width="3"/></g>
<rect x="1380" y="576.4" width="72" height="33.6" rx="5" fill="#ffffff" fill-opacity="0.6"/>
<g ><clipPath id="bl3"><path d="M1408.6,795.9C1411.5,796.6 1417,799 1420.1,801.6C1423.2,804.3 1425.3,809 1427.2,811.6C1429.1,814.3 1429.6,815.5 1431.5,817.4C1433.4,819.3 1437,820.7 1438.6,823.1C1440.3,825.5 1441.4,828.5 1441.5,831.6C1441.5,834.7 1439.1,839.3 1438.9,841.6C1438.7,844 1438.7,844.8 1440.3,845.9C1442,847.1 1445.3,847.8 1448.6,848.5C1451.9,849.2 1456.5,848.5 1460.1,850.2C1463.6,851.9 1467.4,855.7 1470.1,858.8C1472.7,861.9 1474.6,865.9 1475.8,868.8C1477,871.6 1476,873.5 1477.2,875.9C1478.4,878.3 1481,881 1482.9,883.1C1484.8,885.1 1487.9,885.9 1488.6,888.1C1489.3,890.2 1489.1,893.9 1487.2,895.9C1485.3,898 1480.2,899.2 1477.2,900.2C1474.2,901.2 1469.6,900.7 1469.3,901.9C1469.1,903.1 1474.5,905 1475.8,907.4C1477.1,909.7 1478.1,912.8 1477.2,915.9C1476.3,919 1472,922.8 1470.3,925.9C1468.7,929 1469.2,932.4 1467.2,934.5C1465.2,936.6 1461.2,936.4 1458.6,938.8C1456,941.2 1454.3,946.2 1451.5,948.8C1448.6,951.4 1444.8,953.3 1441.5,954.5C1438.2,955.7 1435.1,956.4 1431.5,955.9C1427.9,955.5 1424.3,952.8 1420.1,951.6C1415.8,950.5 1410.5,949.5 1405.8,948.8C1401,948.1 1395.5,946.7 1391.5,947.6C1387.4,948.6 1385.1,951.9 1381.5,954.5C1377.9,957.1 1373.6,961.8 1370.1,963.1C1366.5,964.3 1363.6,962.9 1360.1,961.9C1356.5,961 1351.5,959.5 1348.6,957.4C1345.8,955.2 1343.6,951.4 1342.9,948.8C1342.2,946.2 1346.2,944 1344.3,941.6C1342.4,939.3 1334.6,937.4 1331.5,934.5C1328.4,931.6 1327.2,927.8 1325.8,924.5C1324.3,921.2 1322.7,918.1 1322.9,914.5C1323.2,910.9 1326,906.2 1327.2,903.1C1328.4,900 1330.3,898.5 1330.3,895.9C1330.3,893.3 1326.7,889.9 1327.2,887.4C1327.7,884.8 1330.8,881.2 1333.2,880.5C1335.6,879.8 1339.2,883.1 1341.5,883.1C1343.8,883 1346.5,883.1 1347.2,880.2C1347.9,877.4 1345.5,870.2 1345.8,865.9C1346,861.6 1346.7,858.1 1348.6,854.5C1350.5,850.9 1353.9,847.6 1357.2,844.5C1360.5,841.4 1365.3,839.7 1368.6,835.9C1372,832.1 1374.3,825 1377.2,821.6C1380.1,818.3 1383.2,817.4 1385.8,815.9C1388.4,814.5 1391,815.2 1392.9,813.1C1394.8,810.9 1395.5,805.7 1397.2,803.1C1398.9,800.5 1401,798.5 1402.9,797.4C1404.8,796.2 1405.8,795.2 1408.6,795.9Z"/></clipPath><path d="M1408.6,795.9C1411.5,796.6 1417,799 1420.1,801.6C1423.2,804.3 1425.3,809 1427.2,811.6C1429.1,814.3 1429.6,815.5 1431.5,817.4C1433.4,819.3 1437,820.7 1438.6,823.1C1440.3,825.5 1441.4,828.5 1441.5,831.6C1441.5,834.7 1439.1,839.3 1438.9,841.6C1438.7,844 1438.7,844.8 1440.3,845.9C1442,847.1 1445.3,847.8 1448.6,848.5C1451.9,849.2 1456.5,848.5 1460.1,850.2C1463.6,851.9 1467.4,855.7 1470.1,858.8C1472.7,861.9 1474.6,865.9 1475.8,868.8C1477,871.6 1476,873.5 1477.2,875.9C1478.4,878.3 1481,881 1482.9,883.1C1484.8,885.1 1487.9,885.9 1488.6,888.1C1489.3,890.2 1489.1,893.9 1487.2,895.9C1485.3,898 1480.2,899.2 1477.2,900.2C1474.2,901.2 1469.6,900.7 1469.3,901.9C1469.1,903.1 1474.5,905 1475.8,907.4C1477.1,909.7 1478.1,912.8 1477.2,915.9C1476.3,919 1472,922.8 1470.3,925.9C1468.7,929 1469.2,932.4 1467.2,934.5C1465.2,936.6 1461.2,936.4 1458.6,938.8C1456,941.2 1454.3,946.2 1451.5,948.8C1448.6,951.4 1444.8,953.3 1441.5,954.5C1438.2,955.7 1435.1,956.4 1431.5,955.9C1427.9,955.5 1424.3,952.8 1420.1,951.6C1415.8,950.5 1410.5,949.5 1405.8,948.8C1401,948.1 1395.5,946.7 1391.5,947.6C1387.4,948.6 1385.1,951.9 1381.5,954.5C1377.9,957.1 1373.6,961.8 1370.1,963.1C1366.5,964.3 1363.6,962.9 1360.1,961.9C1356.5,961 1351.5,959.5 1348.6,957.4C1345.8,955.2 1343.6,951.4 1342.9,948.8C1342.2,946.2 1346.2,944 1344.3,941.6C1342.4,939.3 1334.6,937.4 1331.5,934.5C1328.4,931.6 1327.2,927.8 1325.8,924.5C1324.3,921.2 1322.7,918.1 1322.9,914.5C1323.2,910.9 1326,906.2 1327.2,903.1C1328.4,900 1330.3,898.5 1330.3,895.9C1330.3,893.3 1326.7,889.9 1327.2,887.4C1327.7,884.8 1330.8,881.2 1333.2,880.5C1335.6,879.8 1339.2,883.1 1341.5,883.1C1343.8,883 1346.5,883.1 1347.2,880.2C1347.9,877.4 1345.5,870.2 1345.8,865.9C1346,861.6 1346.7,858.1 1348.6,854.5C1350.5,850.9 1353.9,847.6 1357.2,844.5C1360.5,841.4 1365.3,839.7 1368.6,835.9C1372,832.1 1374.3,825 1377.2,821.6C1380.1,818.3 1383.2,817.4 1385.8,815.9C1388.4,814.5 1391,815.2 1392.9,813.1C1394.8,810.9 1395.5,805.7 1397.2,803.1C1398.9,800.5 1401,798.5 1402.9,797.4C1404.8,796.2 1405.8,795.2 1408.6,795.9Z" fill="#fad39b"/><g clip-path="url(#bl3)" fill="#f5dfba" opacity="0.95"><ellipse cx="1323.6" cy="800.3" rx="11.6" ry="11.7" transform="rotate(11 1323.6 800.3)"/><ellipse cx="1348.9" cy="798.7" rx="10.3" ry="13" transform="rotate(84 1348.9 798.7)"/><ellipse cx="1364.6" cy="804.3" rx="10" ry="11.7" transform="rotate(156 1364.6 804.3)"/><ellipse cx="1389.5" cy="804.7" rx="9.7" ry="12.2" transform="rotate(106 1389.5 804.7)"/><ellipse cx="1400" cy="807.6" rx="11.1" ry="12" transform="rotate(158 1400 807.6)"/><ellipse cx="1434.1" cy="800.7" rx="12.3" ry="11" transform="rotate(168 1434.1 800.7)"/><ellipse cx="1443" cy="796.9" rx="10.2" ry="12.9" transform="rotate(78 1443 796.9)"/><ellipse cx="1467" cy="802.3" rx="10.8" ry="10.7" transform="rotate(105 1467 802.3)"/><ellipse cx="1496.9" cy="804.9" rx="12.8" ry="12.5" transform="rotate(178 1496.9 804.9)"/><ellipse cx="1328.5" cy="825.6" rx="12.9" ry="12.7" transform="rotate(102 1328.5 825.6)"/><ellipse cx="1350.2" cy="825.2" rx="11.5" ry="10.5" transform="rotate(11 1350.2 825.2)"/><ellipse cx="1382.6" cy="814.2" rx="12.3" ry="10.9" transform="rotate(27 1382.6 814.2)"/><ellipse cx="1400.4" cy="825.8" rx="9.6" ry="11.6" transform="rotate(8 1400.4 825.8)"/><ellipse cx="1414.9" cy="825.9" rx="13" ry="11.3" transform="rotate(179 1414.9 825.9)"/><ellipse cx="1432.2" cy="821.8" rx="9.6" ry="10.2" transform="rotate(73 1432.2 821.8)"/><ellipse cx="1454.4" cy="813.6" rx="12.5" ry="10.6" transform="rotate(172 1454.4 813.6)"/><ellipse cx="1478.6" cy="819.7" rx="11.3" ry="11.7" transform="rotate(107 1478.6 819.7)"/><ellipse cx="1503.2" cy="826.8" rx="11.3" ry="11" transform="rotate(129 1503.2 826.8)"/><ellipse cx="1320" cy="845.4" rx="11.3" ry="11.4" transform="rotate(2 1320 845.4)"/><ellipse cx="1345.1" cy="831.3" rx="11.6" ry="11.7" transform="rotate(10 1345.1 831.3)"/><ellipse cx="1364.4" cy="841" rx="10.7" ry="12" transform="rotate(132 1364.4 841)"/><ellipse cx="1379.5" cy="840.9" rx="12.9" ry="10.3" transform="rotate(82 1379.5 840.9)"/><ellipse cx="1404.3" cy="836.3" rx="10.6" ry="10.8" transform="rotate(107 1404.3 836.3)"/><ellipse cx="1426.1" cy="842.4" rx="9.5" ry="11.5" transform="rotate(132 1426.1 842.4)"/><ellipse cx="1444.8" cy="842.8" rx="10.3" ry="10.1" transform="rotate(78 1444.8 842.8)"/><ellipse cx="1464.1" cy="835.7" rx="10.6" ry="12.4" transform="rotate(78 1464.1 835.7)"/><ellipse cx="1486.1" cy="835.9" rx="11.8" ry="12.6" transform="rotate(81 1486.1 835.9)"/><ellipse cx="1327.8" cy="856.8" rx="10.1" ry="12.3" transform="rotate(150 1327.8 856.8)"/><ellipse cx="1351.2" cy="860.9" rx="11.7" ry="12.3" transform="rotate(62 1351.2 860.9)"/><ellipse cx="1372.4" cy="860.7" rx="10.4" ry="10.7" transform="rotate(75 1372.4 860.7)"/><ellipse cx="1395.1" cy="862.6" rx="10" ry="9.5" transform="rotate(169 1395.1 862.6)"/><ellipse cx="1424.6" cy="855.4" rx="12.8" ry="12.8" transform="rotate(39 1424.6 855.4)"/><ellipse cx="1443.4" cy="858.8" rx="11.3" ry="10.5" transform="rotate(61 1443.4 858.8)"/><ellipse cx="1453.1" cy="857.7" rx="10.5" ry="12.3" transform="rotate(8 1453.1 857.7)"/><ellipse cx="1483.3" cy="862.6" rx="12.7" ry="12.7" transform="rotate(103 1483.3 862.6)"/><ellipse cx="1505" cy="851.6" rx="10.5" ry="11.8" transform="rotate(94 1505 851.6)"/><ellipse cx="1329.4" cy="876.1" rx="10.7" ry="10.4" transform="rotate(155 1329.4 876.1)"/><ellipse cx="1348.1" cy="872.3" rx="10.2" ry="11.4" transform="rotate(147 1348.1 872.3)"/><ellipse cx="1369.2" cy="880.7" rx="12.3" ry="12.4" transform="rotate(1 1369.2 880.7)"/><ellipse cx="1391.2" cy="867.9" rx="10.4" ry="10.4" transform="rotate(94 1391.2 867.9)"/><ellipse cx="1406.5" cy="878.5" rx="9.5" ry="9.6" transform="rotate(22 1406.5 878.5)"/><ellipse cx="1421.6" cy="881.4" rx="12.5" ry="9.8" transform="rotate(90 1421.6 881.4)"/><ellipse cx="1446.2" cy="872.3" rx="11.8" ry="11.5" transform="rotate(64 1446.2 872.3)"/><ellipse cx="1467.4" cy="868.9" rx="11.4" ry="12" transform="rotate(68 1467.4 868.9)"/><ellipse cx="1486.2" cy="872.6" rx="11.6" ry="12.2" transform="rotate(68 1486.2 872.6)"/><ellipse cx="1335.2" cy="891.5" rx="10.8" ry="11.2" transform="rotate(126 1335.2 891.5)"/><ellipse cx="1357.3" cy="892" rx="10.3" ry="11.4" transform="rotate(125 1357.3 892)"/><ellipse cx="1374.3" cy="891.4" rx="12.6" ry="12.8" transform="rotate(67 1374.3 891.4)"/><ellipse cx="1400.7" cy="889" rx="11.1" ry="9.9" transform="rotate(146 1400.7 889)"/><ellipse cx="1423.1" cy="896.8" rx="11.8" ry="12.1" transform="rotate(101 1423.1 896.8)"/><ellipse cx="1439.7" cy="885.3" rx="10" ry="12.2" transform="rotate(7 1439.7 885.3)"/><ellipse cx="1453.5" cy="898.1" rx="10.1" ry="9.5" transform="rotate(151 1453.5 898.1)"/><ellipse cx="1485.5" cy="895.1" rx="12.4" ry="12.9" transform="rotate(104 1485.5 895.1)"/><ellipse cx="1494.6" cy="896.5" rx="11.3" ry="12" transform="rotate(19 1494.6 896.5)"/><ellipse cx="1329.3" cy="904.1" rx="10.6" ry="11.5" transform="rotate(149 1329.3 904.1)"/><ellipse cx="1339.2" cy="906.9" rx="11.6" ry="12.1" transform="rotate(70 1339.2 906.9)"/><ellipse cx="1363.4" cy="908.4" rx="10.9" ry="9.7" transform="rotate(90 1363.4 908.4)"/><ellipse cx="1384.6" cy="914.2" rx="10" ry="11.9" transform="rotate(136 1384.6 914.2)"/><ellipse cx="1407.2" cy="910.3" rx="11.7" ry="12.7" transform="rotate(26 1407.2 910.3)"/><ellipse cx="1431.6" cy="916.7" rx="11.3" ry="11" transform="rotate(129 1431.6 916.7)"/><ellipse cx="1445.5" cy="906.2" rx="11.5" ry="10.6" transform="rotate(41 1445.5 906.2)"/><ellipse cx="1476.6" cy="907.6" rx="12" ry="10.9" transform="rotate(153 1476.6 907.6)"/><ellipse cx="1487.5" cy="906.4" rx="9.5" ry="11.2" transform="rotate(68 1487.5 906.4)"/><ellipse cx="1331.4" cy="926" rx="12.2" ry="10" transform="rotate(178 1331.4 926)"/><ellipse cx="1355.9" cy="928.2" rx="12.4" ry="12.4" transform="rotate(100 1355.9 928.2)"/><ellipse cx="1378.7" cy="933.9" rx="10.9" ry="12.1" transform="rotate(172 1378.7 933.9)"/><ellipse cx="1392.4" cy="924.7" rx="12" ry="11.9" transform="rotate(172 1392.4 924.7)"/><ellipse cx="1413.6" cy="924.1" rx="10.4" ry="10.1" transform="rotate(126 1413.6 924.1)"/><ellipse cx="1444.3" cy="925" rx="12.5" ry="10.6" transform="rotate(76 1444.3 925)"/><ellipse cx="1453.3" cy="922.7" rx="12.4" ry="10.5" transform="rotate(64 1453.3 922.7)"/><ellipse cx="1483" cy="921.4" rx="10.6" ry="11" transform="rotate(87 1483 921.4)"/><ellipse cx="1502.7" cy="935.3" rx="10.8" ry="11.4" transform="rotate(21 1502.7 935.3)"/><ellipse cx="1325.3" cy="941" rx="12.6" ry="12.7" transform="rotate(17 1325.3 941)"/><ellipse cx="1342.1" cy="950.7" rx="12.2" ry="10.5" transform="rotate(121 1342.1 950.7)"/><ellipse cx="1369.4" cy="943.3" rx="12.1" ry="12.9" transform="rotate(121 1369.4 943.3)"/><ellipse cx="1380.2" cy="946.6" rx="10.7" ry="12" transform="rotate(122 1380.2 946.6)"/><ellipse cx="1402.2" cy="948.8" rx="11.7" ry="10.1" transform="rotate(160 1402.2 948.8)"/><ellipse cx="1422.4" cy="953.1" rx="10" ry="10.6" transform="rotate(129 1422.4 953.1)"/><ellipse cx="1449.7" cy="948.9" rx="11.1" ry="10.6" transform="rotate(31 1449.7 948.9)"/><ellipse cx="1473.1" cy="950.4" rx="11.4" ry="12.1" transform="rotate(64 1473.1 950.4)"/><ellipse cx="1489.2" cy="952.2" rx="9.6" ry="11.3" transform="rotate(44 1489.2 952.2)"/><ellipse cx="1331.3" cy="962.3" rx="10.9" ry="11.4" transform="rotate(138 1331.3 962.3)"/><ellipse cx="1359.5" cy="959.1" rx="10.4" ry="9.8" transform="rotate(20 1359.5 959.1)"/><ellipse cx="1378.8" cy="960.1" rx="10.1" ry="10.9" transform="rotate(133 1378.8 960.1)"/><ellipse cx="1400.1" cy="966.1" rx="10" ry="10.9" transform="rotate(34 1400.1 966.1)"/><ellipse cx="1418.4" cy="960.4" rx="10.3" ry="12.2" transform="rotate(5 1418.4 960.4)"/><ellipse cx="1444.2" cy="971.4" rx="10.8" ry="11.4" transform="rotate(104 1444.2 971.4)"/><ellipse cx="1466.4" cy="967.5" rx="10.5" ry="12.5" transform="rotate(87 1466.4 967.5)"/><ellipse cx="1483.7" cy="957.5" rx="12.2" ry="11.8" transform="rotate(88 1483.7 957.5)"/><ellipse cx="1500.8" cy="960.3" rx="11.3" ry="9.6" transform="rotate(90 1500.8 960.3)"/><ellipse cx="1322.1" cy="983.8" rx="12.9" ry="12.6" transform="rotate(24 1322.1 983.8)"/><ellipse cx="1345.7" cy="976.2" rx="10.7" ry="10.3" transform="rotate(14 1345.7 976.2)"/><ellipse cx="1371.2" cy="980.2" rx="12.6" ry="11.9" transform="rotate(24 1371.2 980.2)"/><ellipse cx="1387.4" cy="989.1" rx="12" ry="12.1" transform="rotate(61 1387.4 989.1)"/><ellipse cx="1413.3" cy="988.1" rx="11" ry="12.2" transform="rotate(87 1413.3 988.1)"/><ellipse cx="1421.2" cy="976.6" rx="10.2" ry="10" transform="rotate(89 1421.2 976.6)"/><ellipse cx="1449.5" cy="981.7" rx="11.8" ry="10.5" transform="rotate(83 1449.5 981.7)"/><ellipse cx="1468.5" cy="978.1" rx="12.7" ry="12" transform="rotate(66 1468.5 978.1)"/><ellipse cx="1491.3" cy="984.2" rx="10.2" ry="9.5" transform="rotate(37 1491.3 984.2)"/></g><path d="M1408.6,795.9C1411.5,796.6 1417,799 1420.1,801.6C1423.2,804.3 1425.3,809 1427.2,811.6C1429.1,814.3 1429.6,815.5 1431.5,817.4C1433.4,819.3 1437,820.7 1438.6,823.1C1440.3,825.5 1441.4,828.5 1441.5,831.6C1441.5,834.7 1439.1,839.3 1438.9,841.6C1438.7,844 1438.7,844.8 1440.3,845.9C1442,847.1 1445.3,847.8 1448.6,848.5C1451.9,849.2 1456.5,848.5 1460.1,850.2C1463.6,851.9 1467.4,855.7 1470.1,858.8C1472.7,861.9 1474.6,865.9 1475.8,868.8C1477,871.6 1476,873.5 1477.2,875.9C1478.4,878.3 1481,881 1482.9,883.1C1484.8,885.1 1487.9,885.9 1488.6,888.1C1489.3,890.2 1489.1,893.9 1487.2,895.9C1485.3,898 1480.2,899.2 1477.2,900.2C1474.2,901.2 1469.6,900.7 1469.3,901.9C1469.1,903.1 1474.5,905 1475.8,907.4C1477.1,909.7 1478.1,912.8 1477.2,915.9C1476.3,919 1472,922.8 1470.3,925.9C1468.7,929 1469.2,932.4 1467.2,934.5C1465.2,936.6 1461.2,936.4 1458.6,938.8C1456,941.2 1454.3,946.2 1451.5,948.8C1448.6,951.4 1444.8,953.3 1441.5,954.5C1438.2,955.7 1435.1,956.4 1431.5,955.9C1427.9,955.5 1424.3,952.8 1420.1,951.6C1415.8,950.5 1410.5,949.5 1405.8,948.8C1401,948.1 1395.5,946.7 1391.5,947.6C1387.4,948.6 1385.1,951.9 1381.5,954.5C1377.9,957.1 1373.6,961.8 1370.1,963.1C1366.5,964.3 1363.6,962.9 1360.1,961.9C1356.5,961 1351.5,959.5 1348.6,957.4C1345.8,955.2 1343.6,951.4 1342.9,948.8C1342.2,946.2 1346.2,944 1344.3,941.6C1342.4,939.3 1334.6,937.4 1331.5,934.5C1328.4,931.6 1327.2,927.8 1325.8,924.5C1324.3,921.2 1322.7,918.1 1322.9,914.5C1323.2,910.9 1326,906.2 1327.2,903.1C1328.4,900 1330.3,898.5 1330.3,895.9C1330.3,893.3 1326.7,889.9 1327.2,887.4C1327.7,884.8 1330.8,881.2 1333.2,880.5C1335.6,879.8 1339.2,883.1 1341.5,883.1C1343.8,883 1346.5,883.1 1347.2,880.2C1347.9,877.4 1345.5,870.2 1345.8,865.9C1346,861.6 1346.7,858.1 1348.6,854.5C1350.5,850.9 1353.9,847.6 1357.2,844.5C1360.5,841.4 1365.3,839.7 1368.6,835.9C1372,832.1 1374.3,825 1377.2,821.6C1380.1,818.3 1383.2,817.4 1385.8,815.9C1388.4,814.5 1391,815.2 1392.9,813.1C1394.8,810.9 1395.5,805.7 1397.2,803.1C1398.9,800.5 1401,798.5 1402.9,797.4C1404.8,796.2 1405.8,795.2 1408.6,795.9Z" fill="none" stroke="#d8a861" stroke-width="2" stroke-linejoin="round"/></g>
<g><rect x="1322.2" y="901.1" width="2.1" height="10.5" fill="url(#tickP)"/><rect x="1329.8" y="901.1" width="2.1" height="10.5" fill="url(#tickP)"/><rect x="1337.3" y="901.1" width="2.1" height="10.5" fill="url(#tickP)"/><rect x="1344.8" y="901.1" width="2.1" height="10.5" fill="url(#tickP)"/><rect x="1352.4" y="901.1" width="2.1" height="10.5" fill="url(#tickP)"/><rect x="1359.9" y="901.1" width="2.1" height="10.5" fill="url(#tickP)"/><rect x="1367.5" y="901.1" width="2.1" height="10.5" fill="url(#tickP)"/><rect x="1375" y="901.1" width="2.1" height="10.5" fill="url(#tickP)"/><rect x="1382.6" y="901.1" width="2.1" height="10.5" fill="url(#tickP)"/><rect x="1390.1" y="901.1" width="2.1" height="10.5" fill="url(#tickP)"/><rect x="1427.9" y="901.1" width="2.1" height="10.5" fill="url(#tickP)"/><rect x="1435.4" y="901.1" width="2.1" height="10.5" fill="url(#tickP)"/><rect x="1443" y="901.1" width="2.1" height="10.5" fill="url(#tickP)"/><rect x="1450.5" y="901.1" width="2.1" height="10.5" fill="url(#tickP)"/><rect x="1458.1" y="901.1" width="2.1" height="10.5" fill="url(#tickP)"/><rect x="1465.6" y="901.1" width="2.1" height="10.5" fill="url(#tickP)"/><rect x="1473.2" y="901.1" width="2.1" height="10.5" fill="url(#tickP)"/><rect x="1480.7" y="901.1" width="2.1" height="10.5" fill="url(#tickP)"/><rect x="1488.3" y="901.1" width="2.1" height="10.5" fill="url(#tickP)"/><rect x="1495.8" y="901.1" width="2.1" height="10.5" fill="url(#tickP)"/><path d="M1320,901.1 H1398.3 Q1400.1,901.1 1400.1,899.5 C1400.1,893.6 1405.2,888.9 1411.5,888.9 C1417.8,888.9 1422.9,893.6 1422.9,899.5 Q1422.9,901.1 1424.7,901.1 H1497" fill="none" stroke="#3b1d5a" stroke-width="3"/></g>
<g><rect x="1130" y="914.9" width="2.4" height="10" fill="url(#tickG)"/><rect x="1136.5" y="916.4" width="2.4" height="10" fill="url(#tickG)"/><rect x="1143.1" y="917.8" width="2.4" height="10" fill="url(#tickG)"/><rect x="1149.7" y="919.2" width="2.4" height="10" fill="url(#tickG)"/><rect x="1156.2" y="920.5" width="2.4" height="10" fill="url(#tickG)"/><rect x="1162.8" y="921.6" width="2.4" height="10" fill="url(#tickG)"/><rect x="1169.3" y="922.6" width="2.4" height="10" fill="url(#tickG)"/><rect x="1175.8" y="923.5" width="2.4" height="10" fill="url(#tickG)"/><rect x="1182.4" y="924.1" width="2.4" height="10" fill="url(#tickG)"/><rect x="1189" y="924.6" width="2.4" height="10" fill="url(#tickG)"/><rect x="1195.5" y="924.9" width="2.4" height="10" fill="url(#tickG)"/><rect x="1202" y="925" width="2.4" height="10" fill="url(#tickG)"/><rect x="1208.6" y="924.9" width="2.4" height="10" fill="url(#tickG)"/><rect x="1215.2" y="924.6" width="2.4" height="10" fill="url(#tickG)"/><rect x="1221.7" y="924" width="2.4" height="10" fill="url(#tickG)"/><rect x="1228.2" y="923.3" width="2.4" height="10" fill="url(#tickG)"/><rect x="1234.8" y="922.5" width="2.4" height="10" fill="url(#tickG)"/><rect x="1241.3" y="921.4" width="2.4" height="10" fill="url(#tickG)"/><rect x="1247.9" y="920.2" width="2.4" height="10" fill="url(#tickG)"/><rect x="1254.5" y="919" width="2.4" height="10" fill="url(#tickG)"/><rect x="1261" y="917.6" width="2.4" height="10" fill="url(#tickG)"/><rect x="1267.5" y="916.2" width="2.4" height="10" fill="url(#tickG)"/><rect x="1274.1" y="914.7" width="2.4" height="10" fill="url(#tickG)"/><rect x="1280.7" y="914.5" width="2.4" height="10" fill="url(#tickG)"/><rect x="1287.2" y="914.5" width="2.4" height="10" fill="url(#tickG)"/><rect x="1293.8" y="914.5" width="2.4" height="10" fill="url(#tickG)"/><rect x="1300.3" y="914.5" width="2.4" height="10" fill="url(#tickG)"/><rect x="1306.8" y="914.5" width="2.4" height="10" fill="url(#tickG)"/><rect x="1313.4" y="914.5" width="2.4" height="10" fill="url(#tickG)"/><rect x="1320" y="914.5" width="2.4" height="10" fill="url(#tickG)"/><rect x="1326.5" y="914.5" width="2.4" height="10" fill="url(#tickG)"/><rect x="1333" y="914.5" width="2.4" height="10" fill="url(#tickG)"/><rect x="1339.6" y="914.5" width="2.4" height="10" fill="url(#tickG)"/><rect x="1346.2" y="914.5" width="2.4" height="10" fill="url(#tickG)"/><rect x="1352.7" y="914.5" width="2.4" height="10" fill="url(#tickG)"/><rect x="1359.2" y="914.5" width="2.4" height="10" fill="url(#tickG)"/><rect x="1365.8" y="914.5" width="2.4" height="10" fill="url(#tickG)"/><rect x="1372.3" y="914.5" width="2.4" height="10" fill="url(#tickG)"/><rect x="1378.9" y="914.5" width="2.4" height="10" fill="url(#tickG)"/><rect x="1385.5" y="914.5" width="2.4" height="10" fill="url(#tickG)"/><rect x="1392" y="914.5" width="2.4" height="10" fill="url(#tickG)"/><rect x="1398.5" y="914.5" width="2.4" height="10" fill="url(#tickG)"/><rect x="1405.1" y="914.5" width="2.4" height="10" fill="url(#tickG)"/><rect x="1411.7" y="914.5" width="2.4" height="10" fill="url(#tickG)"/><rect x="1418.2" y="914.5" width="2.4" height="10" fill="url(#tickG)"/><rect x="1424.8" y="914.5" width="2.4" height="10" fill="url(#tickG)"/><rect x="1431.3" y="914.5" width="2.4" height="10" fill="url(#tickG)"/><rect x="1437.8" y="914.5" width="2.4" height="10" fill="url(#tickG)"/><rect x="1444.4" y="914.5" width="2.4" height="10" fill="url(#tickG)"/><rect x="1451" y="914.5" width="2.4" height="10" fill="url(#tickG)"/><rect x="1457.5" y="914.5" width="2.4" height="10" fill="url(#tickG)"/><rect x="1464" y="914.5" width="2.4" height="10" fill="url(#tickG)"/><rect x="1470.6" y="914.5" width="2.4" height="10" fill="url(#tickG)"/><rect x="1477.2" y="914.5" width="2.4" height="10" fill="url(#tickG)"/><rect x="1483.7" y="914.5" width="2.4" height="10" fill="url(#tickG)"/><rect x="1490.2" y="914.5" width="2.4" height="10" fill="url(#tickG)"/><rect x="1496.8" y="914.5" width="2.4" height="10" fill="url(#tickG)"/><rect x="1503.3" y="914.5" width="2.4" height="10" fill="url(#tickG)"/><rect x="1509.9" y="914.5" width="2.4" height="10" fill="url(#tickG)"/><rect x="1516.5" y="914.5" width="2.4" height="10" fill="url(#tickG)"/><path d="M1128,924.5C1129,924.7 1132,925.4 1134,925.8C1136,926.3 1138,926.7 1140,927.2C1142,927.6 1144,928 1146,928.4C1148,928.9 1150,929.3 1152,929.7C1154,930 1156,930.4 1158,930.8C1160,931.1 1162,931.5 1164,931.8C1166,932.1 1168,932.4 1170,932.7C1172,933 1174,933.2 1176,933.5C1178,933.7 1180,933.9 1182,934.1C1184,934.3 1186,934.4 1188,934.6C1190,934.7 1192,934.8 1194,934.9C1196,934.9 1198,935 1200,935C1202,935 1204,935 1206,935C1208,934.9 1210,934.8 1212,934.7C1214,934.6 1216,934.5 1218,934.4C1220,934.2 1222,934 1224,933.8C1226,933.6 1228,933.4 1230,933.1C1232,932.9 1234,932.6 1236,932.3C1238,932 1240,931.6 1242,931.3C1244,931 1246,930.6 1248,930.2C1250,929.9 1252,929.5 1254,929.1C1256,928.7 1258,928.2 1260,927.8C1262,927.4 1264,926.9 1266,926.5C1268,926.1 1270,925.5 1272,925.2C1274,924.8 1277,924.6 1278,924.5 H1519.5" fill="none" stroke="#1fc01f" stroke-width="2.8"/></g>
<rect x="1367.4" y="839.6" width="72" height="34.5" rx="5" fill="#ffffff" fill-opacity="0.6"/>
<g ><clipPath id="bl4"><path d="M1759.8,995C1762.7,995.7 1768.2,998.1 1771.3,1000.7C1774.4,1003.4 1776.5,1008.1 1778.4,1010.7C1780.3,1013.4 1780.8,1014.6 1782.7,1016.5C1784.6,1018.4 1788.2,1019.8 1789.8,1022.2C1791.5,1024.6 1792.6,1027.6 1792.7,1030.7C1792.7,1033.8 1790.3,1038.4 1790.1,1040.7C1789.9,1043.1 1789.9,1043.9 1791.5,1045C1793.2,1046.2 1796.5,1046.9 1799.8,1047.6C1803.1,1048.3 1807.7,1047.6 1811.3,1049.3C1814.8,1051 1818.6,1054.8 1821.3,1057.9C1823.9,1061 1825.8,1065 1827,1067.9C1828.2,1070.7 1827.2,1072.6 1828.4,1075C1829.6,1077.4 1832.2,1080.1 1834.1,1082.2C1836,1084.2 1839.1,1085 1839.8,1087.2C1840.5,1089.3 1840.3,1093 1838.4,1095C1836.5,1097.1 1831.4,1098.3 1828.4,1099.3C1825.4,1100.3 1820.8,1099.8 1820.5,1101C1820.3,1102.2 1825.7,1104.1 1827,1106.5C1828.3,1108.8 1829.3,1111.9 1828.4,1115C1827.5,1118.1 1823.2,1121.9 1821.5,1125C1819.9,1128.1 1820.4,1131.5 1818.4,1133.6C1816.4,1135.7 1812.4,1135.5 1809.8,1137.9C1807.2,1140.3 1805.5,1145.3 1802.7,1147.9C1799.8,1150.5 1796,1152.4 1792.7,1153.6C1789.4,1154.8 1786.3,1155.5 1782.7,1155C1779.1,1154.6 1775.5,1151.9 1771.3,1150.7C1767,1149.6 1761.7,1148.6 1757,1147.9C1752.2,1147.2 1746.7,1145.8 1742.7,1146.7C1738.6,1147.7 1736.3,1151 1732.7,1153.6C1729.1,1156.2 1724.8,1160.9 1721.3,1162.2C1717.7,1163.4 1714.8,1162 1711.3,1161C1707.7,1160.1 1702.7,1158.6 1699.8,1156.5C1697,1154.3 1694.8,1150.5 1694.1,1147.9C1693.4,1145.3 1697.4,1143.1 1695.5,1140.7C1693.6,1138.4 1685.8,1136.5 1682.7,1133.6C1679.6,1130.7 1678.4,1126.9 1677,1123.6C1675.5,1120.3 1673.9,1117.2 1674.1,1113.6C1674.4,1110 1677.2,1105.3 1678.4,1102.2C1679.6,1099.1 1681.5,1097.6 1681.5,1095C1681.5,1092.4 1677.9,1089 1678.4,1086.5C1678.9,1083.9 1682,1080.3 1684.4,1079.6C1686.8,1078.9 1690.4,1082.2 1692.7,1082.2C1695,1082.1 1697.7,1082.2 1698.4,1079.3C1699.1,1076.5 1696.7,1069.3 1697,1065C1697.2,1060.7 1697.9,1057.2 1699.8,1053.6C1701.7,1050 1705.1,1046.7 1708.4,1043.6C1711.7,1040.5 1716.5,1038.8 1719.8,1035C1723.2,1031.2 1725.5,1024.1 1728.4,1020.7C1731.3,1017.4 1734.4,1016.5 1737,1015C1739.6,1013.6 1742.2,1014.3 1744.1,1012.2C1746,1010 1746.7,1004.8 1748.4,1002.2C1750.1,999.6 1752.2,997.6 1754.1,996.5C1756,995.3 1757,994.3 1759.8,995Z"/></clipPath><path d="M1759.8,995C1762.7,995.7 1768.2,998.1 1771.3,1000.7C1774.4,1003.4 1776.5,1008.1 1778.4,1010.7C1780.3,1013.4 1780.8,1014.6 1782.7,1016.5C1784.6,1018.4 1788.2,1019.8 1789.8,1022.2C1791.5,1024.6 1792.6,1027.6 1792.7,1030.7C1792.7,1033.8 1790.3,1038.4 1790.1,1040.7C1789.9,1043.1 1789.9,1043.9 1791.5,1045C1793.2,1046.2 1796.5,1046.9 1799.8,1047.6C1803.1,1048.3 1807.7,1047.6 1811.3,1049.3C1814.8,1051 1818.6,1054.8 1821.3,1057.9C1823.9,1061 1825.8,1065 1827,1067.9C1828.2,1070.7 1827.2,1072.6 1828.4,1075C1829.6,1077.4 1832.2,1080.1 1834.1,1082.2C1836,1084.2 1839.1,1085 1839.8,1087.2C1840.5,1089.3 1840.3,1093 1838.4,1095C1836.5,1097.1 1831.4,1098.3 1828.4,1099.3C1825.4,1100.3 1820.8,1099.8 1820.5,1101C1820.3,1102.2 1825.7,1104.1 1827,1106.5C1828.3,1108.8 1829.3,1111.9 1828.4,1115C1827.5,1118.1 1823.2,1121.9 1821.5,1125C1819.9,1128.1 1820.4,1131.5 1818.4,1133.6C1816.4,1135.7 1812.4,1135.5 1809.8,1137.9C1807.2,1140.3 1805.5,1145.3 1802.7,1147.9C1799.8,1150.5 1796,1152.4 1792.7,1153.6C1789.4,1154.8 1786.3,1155.5 1782.7,1155C1779.1,1154.6 1775.5,1151.9 1771.3,1150.7C1767,1149.6 1761.7,1148.6 1757,1147.9C1752.2,1147.2 1746.7,1145.8 1742.7,1146.7C1738.6,1147.7 1736.3,1151 1732.7,1153.6C1729.1,1156.2 1724.8,1160.9 1721.3,1162.2C1717.7,1163.4 1714.8,1162 1711.3,1161C1707.7,1160.1 1702.7,1158.6 1699.8,1156.5C1697,1154.3 1694.8,1150.5 1694.1,1147.9C1693.4,1145.3 1697.4,1143.1 1695.5,1140.7C1693.6,1138.4 1685.8,1136.5 1682.7,1133.6C1679.6,1130.7 1678.4,1126.9 1677,1123.6C1675.5,1120.3 1673.9,1117.2 1674.1,1113.6C1674.4,1110 1677.2,1105.3 1678.4,1102.2C1679.6,1099.1 1681.5,1097.6 1681.5,1095C1681.5,1092.4 1677.9,1089 1678.4,1086.5C1678.9,1083.9 1682,1080.3 1684.4,1079.6C1686.8,1078.9 1690.4,1082.2 1692.7,1082.2C1695,1082.1 1697.7,1082.2 1698.4,1079.3C1699.1,1076.5 1696.7,1069.3 1697,1065C1697.2,1060.7 1697.9,1057.2 1699.8,1053.6C1701.7,1050 1705.1,1046.7 1708.4,1043.6C1711.7,1040.5 1716.5,1038.8 1719.8,1035C1723.2,1031.2 1725.5,1024.1 1728.4,1020.7C1731.3,1017.4 1734.4,1016.5 1737,1015C1739.6,1013.6 1742.2,1014.3 1744.1,1012.2C1746,1010 1746.7,1004.8 1748.4,1002.2C1750.1,999.6 1752.2,997.6 1754.1,996.5C1756,995.3 1757,994.3 1759.8,995Z" fill="#fad39b"/><g clip-path="url(#bl4)" fill="#f5dfba" opacity="0.95"><ellipse cx="1674.8" cy="999.4" rx="11.6" ry="11.7" transform="rotate(11 1674.8 999.4)"/><ellipse cx="1700.1" cy="997.8" rx="10.3" ry="13" transform="rotate(84 1700.1 997.8)"/><ellipse cx="1715.8" cy="1003.4" rx="10" ry="11.7" transform="rotate(156 1715.8 1003.4)"/><ellipse cx="1740.7" cy="1003.8" rx="9.7" ry="12.2" transform="rotate(106 1740.7 1003.8)"/><ellipse cx="1751.2" cy="1006.7" rx="11.1" ry="12" transform="rotate(158 1751.2 1006.7)"/><ellipse cx="1785.3" cy="999.8" rx="12.3" ry="11" transform="rotate(168 1785.3 999.8)"/><ellipse cx="1794.2" cy="996" rx="10.2" ry="12.9" transform="rotate(78 1794.2 996)"/><ellipse cx="1818.2" cy="1001.4" rx="10.8" ry="10.7" transform="rotate(105 1818.2 1001.4)"/><ellipse cx="1848.1" cy="1004" rx="12.8" ry="12.5" transform="rotate(178 1848.1 1004)"/><ellipse cx="1679.7" cy="1024.7" rx="12.9" ry="12.7" transform="rotate(102 1679.7 1024.7)"/><ellipse cx="1701.4" cy="1024.3" rx="11.5" ry="10.5" transform="rotate(11 1701.4 1024.3)"/><ellipse cx="1733.8" cy="1013.3" rx="12.3" ry="10.9" transform="rotate(27 1733.8 1013.3)"/><ellipse cx="1751.6" cy="1024.9" rx="9.6" ry="11.6" transform="rotate(8 1751.6 1024.9)"/><ellipse cx="1766.1" cy="1025" rx="13" ry="11.3" transform="rotate(179 1766.1 1025)"/><ellipse cx="1783.4" cy="1020.9" rx="9.6" ry="10.2" transform="rotate(73 1783.4 1020.9)"/><ellipse cx="1805.6" cy="1012.7" rx="12.5" ry="10.6" transform="rotate(172 1805.6 1012.7)"/><ellipse cx="1829.8" cy="1018.8" rx="11.3" ry="11.7" transform="rotate(107 1829.8 1018.8)"/><ellipse cx="1854.4" cy="1025.9" rx="11.3" ry="11" transform="rotate(129 1854.4 1025.9)"/><ellipse cx="1671.2" cy="1044.5" rx="11.3" ry="11.4" transform="rotate(2 1671.2 1044.5)"/><ellipse cx="1696.3" cy="1030.4" rx="11.6" ry="11.7" transform="rotate(10 1696.3 1030.4)"/><ellipse cx="1715.6" cy="1040.1" rx="10.7" ry="12" transform="rotate(132 1715.6 1040.1)"/><ellipse cx="1730.7" cy="1040" rx="12.9" ry="10.3" transform="rotate(82 1730.7 1040)"/><ellipse cx="1755.5" cy="1035.4" rx="10.6" ry="10.8" transform="rotate(107 1755.5 1035.4)"/><ellipse cx="1777.3" cy="1041.5" rx="9.5" ry="11.5" transform="rotate(132 1777.3 1041.5)"/><ellipse cx="1796" cy="1041.9" rx="10.3" ry="10.1" transform="rotate(78 1796 1041.9)"/><ellipse cx="1815.3" cy="1034.8" rx="10.6" ry="12.4" transform="rotate(78 1815.3 1034.8)"/><ellipse cx="1837.3" cy="1035" rx="11.8" ry="12.6" transform="rotate(81 1837.3 1035)"/><ellipse cx="1679" cy="1055.9" rx="10.1" ry="12.3" transform="rotate(150 1679 1055.9)"/><ellipse cx="1702.4" cy="1060" rx="11.7" ry="12.3" transform="rotate(62 1702.4 1060)"/><ellipse cx="1723.6" cy="1059.8" rx="10.4" ry="10.7" transform="rotate(75 1723.6 1059.8)"/><ellipse cx="1746.3" cy="1061.7" rx="10" ry="9.5" transform="rotate(169 1746.3 1061.7)"/><ellipse cx="1775.8" cy="1054.5" rx="12.8" ry="12.8" transform="rotate(39 1775.8 1054.5)"/><ellipse cx="1794.6" cy="1057.9" rx="11.3" ry="10.5" transform="rotate(61 1794.6 1057.9)"/><ellipse cx="1804.3" cy="1056.8" rx="10.5" ry="12.3" transform="rotate(8 1804.3 1056.8)"/><ellipse cx="1834.5" cy="1061.7" rx="12.7" ry="12.7" transform="rotate(103 1834.5 1061.7)"/><ellipse cx="1856.2" cy="1050.7" rx="10.5" ry="11.8" transform="rotate(94 1856.2 1050.7)"/><ellipse cx="1680.6" cy="1075.2" rx="10.7" ry="10.4" transform="rotate(155 1680.6 1075.2)"/><ellipse cx="1699.3" cy="1071.4" rx="10.2" ry="11.4" transform="rotate(147 1699.3 1071.4)"/><ellipse cx="1720.4" cy="1079.8" rx="12.3" ry="12.4" transform="rotate(1 1720.4 1079.8)"/><ellipse cx="1742.4" cy="1067" rx="10.4" ry="10.4" transform="rotate(94 1742.4 1067)"/><ellipse cx="1757.7" cy="1077.6" rx="9.5" ry="9.6" transform="rotate(22 1757.7 1077.6)"/><ellipse cx="1772.8" cy="1080.5" rx="12.5" ry="9.8" transform="rotate(90 1772.8 1080.5)"/><ellipse cx="1797.4" cy="1071.4" rx="11.8" ry="11.5" transform="rotate(64 1797.4 1071.4)"/><ellipse cx="1818.6" cy="1068" rx="11.4" ry="12" transform="rotate(68 1818.6 1068)"/><ellipse cx="1837.4" cy="1071.7" rx="11.6" ry="12.2" transform="rotate(68 1837.4 1071.7)"/><ellipse cx="1686.4" cy="1090.6" rx="10.8" ry="11.2" transform="rotate(126 1686.4 1090.6)"/><ellipse cx="1708.5" cy="1091.1" rx="10.3" ry="11.4" transform="rotate(125 1708.5 1091.1)"/><ellipse cx="1725.5" cy="1090.5" rx="12.6" ry="12.8" transform="rotate(67 1725.5 1090.5)"/><ellipse cx="1751.9" cy="1088.1" rx="11.1" ry="9.9" transform="rotate(146 1751.9 1088.1)"/><ellipse cx="1774.3" cy="1095.9" rx="11.8" ry="12.1" transform="rotate(101 1774.3 1095.9)"/><ellipse cx="1790.9" cy="1084.4" rx="10" ry="12.2" transform="rotate(7 1790.9 1084.4)"/><ellipse cx="1804.7" cy="1097.2" rx="10.1" ry="9.5" transform="rotate(151 1804.7 1097.2)"/><ellipse cx="1836.7" cy="1094.2" rx="12.4" ry="12.9" transform="rotate(104 1836.7 1094.2)"/><ellipse cx="1845.8" cy="1095.6" rx="11.3" ry="12" transform="rotate(19 1845.8 1095.6)"/><ellipse cx="1680.5" cy="1103.2" rx="10.6" ry="11.5" transform="rotate(149 1680.5 1103.2)"/><ellipse cx="1690.4" cy="1106" rx="11.6" ry="12.1" transform="rotate(70 1690.4 1106)"/><ellipse cx="1714.6" cy="1107.5" rx="10.9" ry="9.7" transform="rotate(90 1714.6 1107.5)"/><ellipse cx="1735.8" cy="1113.3" rx="10" ry="11.9" transform="rotate(136 1735.8 1113.3)"/><ellipse cx="1758.4" cy="1109.4" rx="11.7" ry="12.7" transform="rotate(26 1758.4 1109.4)"/><ellipse cx="1782.8" cy="1115.8" rx="11.3" ry="11" transform="rotate(129 1782.8 1115.8)"/><ellipse cx="1796.7" cy="1105.3" rx="11.5" ry="10.6" transform="rotate(41 1796.7 1105.3)"/><ellipse cx="1827.8" cy="1106.7" rx="12" ry="10.9" transform="rotate(153 1827.8 1106.7)"/><ellipse cx="1838.7" cy="1105.5" rx="9.5" ry="11.2" transform="rotate(68 1838.7 1105.5)"/><ellipse cx="1682.6" cy="1125.1" rx="12.2" ry="10" transform="rotate(178 1682.6 1125.1)"/><ellipse cx="1707.1" cy="1127.3" rx="12.4" ry="12.4" transform="rotate(100 1707.1 1127.3)"/><ellipse cx="1729.9" cy="1133" rx="10.9" ry="12.1" transform="rotate(172 1729.9 1133)"/><ellipse cx="1743.6" cy="1123.8" rx="12" ry="11.9" transform="rotate(172 1743.6 1123.8)"/><ellipse cx="1764.8" cy="1123.2" rx="10.4" ry="10.1" transform="rotate(126 1764.8 1123.2)"/><ellipse cx="1795.5" cy="1124.1" rx="12.5" ry="10.6" transform="rotate(76 1795.5 1124.1)"/><ellipse cx="1804.5" cy="1121.8" rx="12.4" ry="10.5" transform="rotate(64 1804.5 1121.8)"/><ellipse cx="1834.2" cy="1120.5" rx="10.6" ry="11" transform="rotate(87 1834.2 1120.5)"/><ellipse cx="1853.9" cy="1134.4" rx="10.8" ry="11.4" transform="rotate(21 1853.9 1134.4)"/><ellipse cx="1676.5" cy="1140.1" rx="12.6" ry="12.7" transform="rotate(17 1676.5 1140.1)"/><ellipse cx="1693.3" cy="1149.8" rx="12.2" ry="10.5" transform="rotate(121 1693.3 1149.8)"/><ellipse cx="1720.6" cy="1142.4" rx="12.1" ry="12.9" transform="rotate(121 1720.6 1142.4)"/><ellipse cx="1731.4" cy="1145.7" rx="10.7" ry="12" transform="rotate(122 1731.4 1145.7)"/><ellipse cx="1753.4" cy="1147.9" rx="11.7" ry="10.1" transform="rotate(160 1753.4 1147.9)"/><ellipse cx="1773.6" cy="1152.2" rx="10" ry="10.6" transform="rotate(129 1773.6 1152.2)"/><ellipse cx="1800.9" cy="1148" rx="11.1" ry="10.6" transform="rotate(31 1800.9 1148)"/><ellipse cx="1824.3" cy="1149.5" rx="11.4" ry="12.1" transform="rotate(64 1824.3 1149.5)"/><ellipse cx="1840.4" cy="1151.3" rx="9.6" ry="11.3" transform="rotate(44 1840.4 1151.3)"/><ellipse cx="1682.5" cy="1161.4" rx="10.9" ry="11.4" transform="rotate(138 1682.5 1161.4)"/><ellipse cx="1710.7" cy="1158.2" rx="10.4" ry="9.8" transform="rotate(20 1710.7 1158.2)"/><ellipse cx="1730" cy="1159.2" rx="10.1" ry="10.9" transform="rotate(133 1730 1159.2)"/><ellipse cx="1751.3" cy="1165.2" rx="10" ry="10.9" transform="rotate(34 1751.3 1165.2)"/><ellipse cx="1769.6" cy="1159.5" rx="10.3" ry="12.2" transform="rotate(5 1769.6 1159.5)"/><ellipse cx="1795.4" cy="1170.5" rx="10.8" ry="11.4" transform="rotate(104 1795.4 1170.5)"/><ellipse cx="1817.6" cy="1166.6" rx="10.5" ry="12.5" transform="rotate(87 1817.6 1166.6)"/><ellipse cx="1834.9" cy="1156.6" rx="12.2" ry="11.8" transform="rotate(88 1834.9 1156.6)"/><ellipse cx="1852" cy="1159.4" rx="11.3" ry="9.6" transform="rotate(90 1852 1159.4)"/><ellipse cx="1673.3" cy="1182.9" rx="12.9" ry="12.6" transform="rotate(24 1673.3 1182.9)"/><ellipse cx="1696.9" cy="1175.3" rx="10.7" ry="10.3" transform="rotate(14 1696.9 1175.3)"/><ellipse cx="1722.4" cy="1179.3" rx="12.6" ry="11.9" transform="rotate(24 1722.4 1179.3)"/><ellipse cx="1738.6" cy="1188.2" rx="12" ry="12.1" transform="rotate(61 1738.6 1188.2)"/><ellipse cx="1764.5" cy="1187.2" rx="11" ry="12.2" transform="rotate(87 1764.5 1187.2)"/><ellipse cx="1772.4" cy="1175.7" rx="10.2" ry="10" transform="rotate(89 1772.4 1175.7)"/><ellipse cx="1800.7" cy="1180.8" rx="11.8" ry="10.5" transform="rotate(83 1800.7 1180.8)"/><ellipse cx="1819.7" cy="1177.2" rx="12.7" ry="12" transform="rotate(66 1819.7 1177.2)"/><ellipse cx="1842.5" cy="1183.3" rx="10.2" ry="9.5" transform="rotate(37 1842.5 1183.3)"/></g><path d="M1759.8,995C1762.7,995.7 1768.2,998.1 1771.3,1000.7C1774.4,1003.4 1776.5,1008.1 1778.4,1010.7C1780.3,1013.4 1780.8,1014.6 1782.7,1016.5C1784.6,1018.4 1788.2,1019.8 1789.8,1022.2C1791.5,1024.6 1792.6,1027.6 1792.7,1030.7C1792.7,1033.8 1790.3,1038.4 1790.1,1040.7C1789.9,1043.1 1789.9,1043.9 1791.5,1045C1793.2,1046.2 1796.5,1046.9 1799.8,1047.6C1803.1,1048.3 1807.7,1047.6 1811.3,1049.3C1814.8,1051 1818.6,1054.8 1821.3,1057.9C1823.9,1061 1825.8,1065 1827,1067.9C1828.2,1070.7 1827.2,1072.6 1828.4,1075C1829.6,1077.4 1832.2,1080.1 1834.1,1082.2C1836,1084.2 1839.1,1085 1839.8,1087.2C1840.5,1089.3 1840.3,1093 1838.4,1095C1836.5,1097.1 1831.4,1098.3 1828.4,1099.3C1825.4,1100.3 1820.8,1099.8 1820.5,1101C1820.3,1102.2 1825.7,1104.1 1827,1106.5C1828.3,1108.8 1829.3,1111.9 1828.4,1115C1827.5,1118.1 1823.2,1121.9 1821.5,1125C1819.9,1128.1 1820.4,1131.5 1818.4,1133.6C1816.4,1135.7 1812.4,1135.5 1809.8,1137.9C1807.2,1140.3 1805.5,1145.3 1802.7,1147.9C1799.8,1150.5 1796,1152.4 1792.7,1153.6C1789.4,1154.8 1786.3,1155.5 1782.7,1155C1779.1,1154.6 1775.5,1151.9 1771.3,1150.7C1767,1149.6 1761.7,1148.6 1757,1147.9C1752.2,1147.2 1746.7,1145.8 1742.7,1146.7C1738.6,1147.7 1736.3,1151 1732.7,1153.6C1729.1,1156.2 1724.8,1160.9 1721.3,1162.2C1717.7,1163.4 1714.8,1162 1711.3,1161C1707.7,1160.1 1702.7,1158.6 1699.8,1156.5C1697,1154.3 1694.8,1150.5 1694.1,1147.9C1693.4,1145.3 1697.4,1143.1 1695.5,1140.7C1693.6,1138.4 1685.8,1136.5 1682.7,1133.6C1679.6,1130.7 1678.4,1126.9 1677,1123.6C1675.5,1120.3 1673.9,1117.2 1674.1,1113.6C1674.4,1110 1677.2,1105.3 1678.4,1102.2C1679.6,1099.1 1681.5,1097.6 1681.5,1095C1681.5,1092.4 1677.9,1089 1678.4,1086.5C1678.9,1083.9 1682,1080.3 1684.4,1079.6C1686.8,1078.9 1690.4,1082.2 1692.7,1082.2C1695,1082.1 1697.7,1082.2 1698.4,1079.3C1699.1,1076.5 1696.7,1069.3 1697,1065C1697.2,1060.7 1697.9,1057.2 1699.8,1053.6C1701.7,1050 1705.1,1046.7 1708.4,1043.6C1711.7,1040.5 1716.5,1038.8 1719.8,1035C1723.2,1031.2 1725.5,1024.1 1728.4,1020.7C1731.3,1017.4 1734.4,1016.5 1737,1015C1739.6,1013.6 1742.2,1014.3 1744.1,1012.2C1746,1010 1746.7,1004.8 1748.4,1002.2C1750.1,999.6 1752.2,997.6 1754.1,996.5C1756,995.3 1757,994.3 1759.8,995Z" fill="none" stroke="#d8a861" stroke-width="2" stroke-linejoin="round"/></g>
<g><rect x="1672.2" y="1104.5" width="2.1" height="10.5" fill="url(#tickP)"/><rect x="1679.8" y="1104.5" width="2.1" height="10.5" fill="url(#tickP)"/><rect x="1687.3" y="1104.5" width="2.1" height="10.5" fill="url(#tickP)"/><rect x="1694.8" y="1104.5" width="2.1" height="10.5" fill="url(#tickP)"/><rect x="1702.4" y="1104.5" width="2.1" height="10.5" fill="url(#tickP)"/><rect x="1709.9" y="1104.5" width="2.1" height="10.5" fill="url(#tickP)"/><rect x="1717.5" y="1104.5" width="2.1" height="10.5" fill="url(#tickP)"/><rect x="1725" y="1104.5" width="2.1" height="10.5" fill="url(#tickP)"/><rect x="1732.6" y="1104.5" width="2.1" height="10.5" fill="url(#tickP)"/><rect x="1740.1" y="1104.5" width="2.1" height="10.5" fill="url(#tickP)"/><rect x="1777.9" y="1104.5" width="2.1" height="10.5" fill="url(#tickP)"/><rect x="1785.4" y="1104.5" width="2.1" height="10.5" fill="url(#tickP)"/><rect x="1793" y="1104.5" width="2.1" height="10.5" fill="url(#tickP)"/><rect x="1800.5" y="1104.5" width="2.1" height="10.5" fill="url(#tickP)"/><rect x="1808.1" y="1104.5" width="2.1" height="10.5" fill="url(#tickP)"/><rect x="1815.6" y="1104.5" width="2.1" height="10.5" fill="url(#tickP)"/><rect x="1823.2" y="1104.5" width="2.1" height="10.5" fill="url(#tickP)"/><rect x="1830.7" y="1104.5" width="2.1" height="10.5" fill="url(#tickP)"/><rect x="1838.3" y="1104.5" width="2.1" height="10.5" fill="url(#tickP)"/><rect x="1845.8" y="1104.5" width="2.1" height="10.5" fill="url(#tickP)"/><path d="M1670,1104.5 H1747.3 Q1749.1,1104.5 1749.1,1102.9 C1749.1,1097 1754.2,1092.3 1760.5,1092.3 C1766.8,1092.3 1771.9,1097 1771.9,1102.9 Q1771.9,1104.5 1773.7,1104.5 H1847" fill="none" stroke="#3b1d5a" stroke-width="3"/></g>
<g><rect x="1479.5" y="1118" width="2.4" height="10" fill="url(#tickG)"/><rect x="1486" y="1119.3" width="2.4" height="10" fill="url(#tickG)"/><rect x="1492.6" y="1120.5" width="2.4" height="10" fill="url(#tickG)"/><rect x="1499.2" y="1121.8" width="2.4" height="10" fill="url(#tickG)"/><rect x="1505.7" y="1123.1" width="2.4" height="10" fill="url(#tickG)"/><rect x="1512.2" y="1124.3" width="2.4" height="10" fill="url(#tickG)"/><rect x="1518.8" y="1125.6" width="2.4" height="10" fill="url(#tickG)"/><rect x="1525.3" y="1126.1" width="2.4" height="10" fill="url(#tickG)"/><rect x="1531.9" y="1126.3" width="2.4" height="10" fill="url(#tickG)"/><rect x="1538.5" y="1126.5" width="2.4" height="10" fill="url(#tickG)"/><rect x="1545" y="1126.1" width="2.4" height="10" fill="url(#tickG)"/><rect x="1551.5" y="1125.6" width="2.4" height="10" fill="url(#tickG)"/><rect x="1558.1" y="1125.1" width="2.4" height="10" fill="url(#tickG)"/><rect x="1564.7" y="1124.4" width="2.4" height="10" fill="url(#tickG)"/><rect x="1571.2" y="1123.6" width="2.4" height="10" fill="url(#tickG)"/><rect x="1577.8" y="1122.8" width="2.4" height="10" fill="url(#tickG)"/><rect x="1584.3" y="1122" width="2.4" height="10" fill="url(#tickG)"/><rect x="1590.8" y="1121.1" width="2.4" height="10" fill="url(#tickG)"/><rect x="1597.4" y="1120.3" width="2.4" height="10" fill="url(#tickG)"/><rect x="1604" y="1119.7" width="2.4" height="10" fill="url(#tickG)"/><rect x="1610.5" y="1119.2" width="2.4" height="10" fill="url(#tickG)"/><rect x="1617" y="1118.6" width="2.4" height="10" fill="url(#tickG)"/><rect x="1623.6" y="1118.3" width="2.4" height="10" fill="url(#tickG)"/><rect x="1630.2" y="1118.2" width="2.4" height="10" fill="url(#tickG)"/><rect x="1636.7" y="1118.1" width="2.4" height="10" fill="url(#tickG)"/><rect x="1643.2" y="1118" width="2.4" height="10" fill="url(#tickG)"/><rect x="1649.8" y="1118" width="2.4" height="10" fill="url(#tickG)"/><rect x="1656.3" y="1118" width="2.4" height="10" fill="url(#tickG)"/><rect x="1662.9" y="1118" width="2.4" height="10" fill="url(#tickG)"/><rect x="1669.5" y="1118" width="2.4" height="10" fill="url(#tickG)"/><rect x="1676" y="1118" width="2.4" height="10" fill="url(#tickG)"/><rect x="1682.5" y="1118" width="2.4" height="10" fill="url(#tickG)"/><rect x="1689.1" y="1118" width="2.4" height="10" fill="url(#tickG)"/><rect x="1695.7" y="1118" width="2.4" height="10" fill="url(#tickG)"/><rect x="1702.2" y="1118" width="2.4" height="10" fill="url(#tickG)"/><rect x="1708.8" y="1118" width="2.4" height="10" fill="url(#tickG)"/><rect x="1715.3" y="1118" width="2.4" height="10" fill="url(#tickG)"/><rect x="1721.8" y="1118" width="2.4" height="10" fill="url(#tickG)"/><rect x="1728.4" y="1118" width="2.4" height="10" fill="url(#tickG)"/><rect x="1735" y="1118" width="2.4" height="10" fill="url(#tickG)"/><rect x="1741.5" y="1118" width="2.4" height="10" fill="url(#tickG)"/><rect x="1748" y="1118" width="2.4" height="10" fill="url(#tickG)"/><rect x="1754.6" y="1118" width="2.4" height="10" fill="url(#tickG)"/><rect x="1761.2" y="1118" width="2.4" height="10" fill="url(#tickG)"/><rect x="1767.7" y="1118" width="2.4" height="10" fill="url(#tickG)"/><rect x="1774.2" y="1118" width="2.4" height="10" fill="url(#tickG)"/><rect x="1780.8" y="1118" width="2.4" height="10" fill="url(#tickG)"/><rect x="1787.3" y="1118" width="2.4" height="10" fill="url(#tickG)"/><rect x="1793.9" y="1118" width="2.4" height="10" fill="url(#tickG)"/><rect x="1800.5" y="1118" width="2.4" height="10" fill="url(#tickG)"/><rect x="1807" y="1118" width="2.4" height="10" fill="url(#tickG)"/><rect x="1813.5" y="1118" width="2.4" height="10" fill="url(#tickG)"/><rect x="1820.1" y="1118" width="2.4" height="10" fill="url(#tickG)"/><rect x="1826.7" y="1118" width="2.4" height="10" fill="url(#tickG)"/><rect x="1833.2" y="1118" width="2.4" height="10" fill="url(#tickG)"/><rect x="1839.8" y="1118" width="2.4" height="10" fill="url(#tickG)"/><rect x="1846.3" y="1118" width="2.4" height="10" fill="url(#tickG)"/><rect x="1852.8" y="1118" width="2.4" height="10" fill="url(#tickG)"/><rect x="1859.4" y="1118" width="2.4" height="10" fill="url(#tickG)"/><rect x="1866" y="1118" width="2.4" height="10" fill="url(#tickG)"/><path d="M1477,1127.5C1480.7,1128.2 1491.7,1130.4 1499,1131.8C1506.3,1133.2 1514.2,1135.2 1521,1136C1527.8,1136.8 1533.5,1136.7 1540,1136.5C1546.5,1136.3 1553.3,1135.7 1560,1135C1566.7,1134.3 1573.3,1133.3 1580,1132.5C1586.7,1131.7 1593.3,1130.7 1600,1130C1606.7,1129.3 1613.3,1128.7 1620,1128.4C1626.7,1128.1 1636.7,1128.1 1640,1128 H1870.5" fill="none" stroke="#1fc01f" stroke-width="2.8"/></g>
<rect x="1717.5" y="1040" width="71.5" height="32.5" rx="5" fill="#ffffff" fill-opacity="0.6"/>
<path d="M1520.6,1129.2C1521.6,1127.3 1525.2,1126.1 1527.5,1125.8C1529.8,1125.5 1531.7,1126.5 1534.4,1127.5C1537.1,1128.6 1540.1,1130.9 1543.6,1132.1C1547,1133.4 1551.1,1134.8 1555.1,1135C1559.1,1135.2 1563.5,1134.1 1567.7,1133.3C1572,1132.4 1576.4,1130.7 1580.4,1129.8C1584.4,1129 1588.3,1128.1 1591.9,1128.1C1595.5,1128.1 1599.2,1129 1602.2,1129.8C1605.3,1130.7 1608.3,1131.6 1610.3,1133.3C1612.3,1134.9 1613.6,1137.4 1614.3,1139.6C1615,1141.8 1614.8,1144.4 1614.3,1146.5C1613.8,1148.6 1613.1,1150.6 1611.4,1152.2C1609.8,1153.9 1607.2,1155.4 1604.5,1156.3C1601.9,1157.1 1598.6,1157.3 1595.3,1157.4C1592.1,1157.5 1588.3,1156.5 1585,1156.8C1581.7,1157.2 1578.9,1158.6 1575.8,1159.7C1572.7,1160.9 1570,1162.7 1566.6,1163.7C1563.1,1164.8 1558.9,1166.2 1555.1,1166.3C1551.3,1166.4 1547,1165.4 1543.6,1164.3C1540.1,1163.2 1537.1,1161.5 1534.4,1159.7C1531.7,1157.9 1529.2,1155.8 1527.5,1153.4C1525.8,1151 1525,1148 1524,1145.3C1523.1,1142.7 1522.3,1140 1521.7,1137.3C1521.2,1134.6 1519.6,1131.2 1520.6,1129.2Z" fill="#9ec9dd"/>
<path d="M1521.2,1129.8C1521.9,1128.4 1525.3,1126.7 1527.5,1126.4C1529.7,1126.1 1531.7,1127 1534.4,1128.1C1537.1,1129.1 1540.1,1131.4 1543.6,1132.7C1547,1133.9 1551.1,1135.4 1555.1,1135.6C1559.1,1135.8 1563.5,1134.7 1567.7,1133.8C1572,1133 1576.4,1131.3 1580.4,1130.4C1584.4,1129.5 1588.3,1128.7 1591.9,1128.7C1595.5,1128.7 1599.3,1129.5 1602.2,1130.4C1605.2,1131.3 1608,1132.3 1609.7,1133.8C1611.4,1135.4 1612.4,1137.7 1612.6,1139.6C1612.8,1141.5 1612.2,1143.7 1610.9,1145.3C1609.5,1147 1607.1,1148.5 1604.5,1149.4C1602,1150.2 1598.6,1150.4 1595.3,1150.5C1592.1,1150.6 1588.3,1149.7 1585,1149.9C1581.7,1150.2 1578.9,1151.2 1575.8,1152.2C1572.7,1153.3 1570,1155.2 1566.6,1156.3C1563.1,1157.3 1558.7,1158.5 1555.1,1158.6C1551.5,1158.7 1547.8,1157.9 1544.7,1156.8C1541.7,1155.8 1539.1,1154 1536.7,1152.2C1534.3,1150.5 1532.1,1148.4 1530.4,1146.5C1528.6,1144.6 1527.6,1142.7 1526.3,1140.7C1525.1,1138.8 1523.8,1136.8 1522.9,1135C1522,1133.2 1520.4,1131.3 1521.2,1129.8Z" fill="#b5d9e8"/>
<path d="M1520.6,1110.8C1520.4,1108.4 1521.6,1105.2 1522.9,1102.8C1524.2,1100.4 1526.3,1098.2 1528.6,1096.5C1530.9,1094.7 1534.2,1093.6 1536.7,1092.4C1539.2,1091.3 1541.5,1090.9 1543.6,1089.6C1545.7,1088.2 1547.2,1086.3 1549.3,1084.4C1551.5,1082.5 1553.6,1079.9 1556.2,1078.1C1558.9,1076.3 1562.2,1074.6 1565.4,1073.5C1568.7,1072.3 1572.3,1071.6 1575.8,1071.2C1579.2,1070.8 1582.9,1070.7 1586.1,1071.2C1589.4,1071.7 1592.7,1072.6 1595.3,1074C1598,1075.5 1600.5,1077.7 1602.2,1079.8C1604,1081.9 1604.6,1084.4 1605.7,1086.7C1606.7,1089 1607.4,1091.3 1608.6,1093.6C1609.7,1095.9 1611.6,1098.2 1612.6,1100.5C1613.6,1102.8 1614.2,1105.1 1614.3,1107.4C1614.4,1109.7 1613.9,1112 1613.2,1114.3C1612.4,1116.6 1611.2,1119.2 1609.7,1121.2C1608.3,1123.2 1606.7,1124.8 1604.5,1126.4C1602.3,1127.9 1599.4,1129.4 1596.5,1130.4C1593.6,1131.4 1590.4,1132.1 1587.3,1132.1C1584.2,1132.1 1580.8,1130.4 1578.1,1130.4C1575.4,1130.4 1573.9,1131.4 1571.2,1132.1C1568.5,1132.8 1565.1,1134.1 1562,1134.4C1558.9,1134.7 1555.7,1134.4 1552.8,1133.8C1549.9,1133.3 1547.2,1132.3 1544.7,1131C1542.3,1129.6 1540.3,1127.2 1537.8,1125.8C1535.4,1124.4 1532.1,1123.7 1529.8,1122.3C1527.5,1121 1525.6,1119.7 1524,1117.7C1522.5,1115.8 1520.8,1113.3 1520.6,1110.8Z" fill="#a0cda3"/>
<path d="M1521.2,1110.3C1521.1,1108.2 1522.1,1105 1523.5,1102.8C1524.8,1100.6 1527,1098.5 1529.2,1096.8C1531.5,1095.2 1534.5,1094 1536.9,1092.9C1539.4,1091.8 1541.7,1091.4 1543.8,1090C1545.9,1088.7 1547.5,1086.8 1549.6,1084.9C1551.7,1082.9 1553.8,1080.4 1556.5,1078.5C1559.2,1076.7 1562.5,1075.1 1565.7,1073.9C1568.9,1072.8 1572.4,1072.1 1575.8,1071.7C1579.2,1071.4 1582.8,1071.3 1585.9,1071.7C1589.1,1072.2 1592.2,1073.2 1594.8,1074.6C1597.3,1076 1599.6,1078.1 1601.1,1080.1C1602.6,1082.2 1603.4,1084.3 1604,1086.7C1604.5,1089.1 1604.8,1092.1 1604.5,1094.7C1604.3,1097.4 1603.2,1100.1 1602.2,1102.8C1601.3,1105.5 1600.5,1108.5 1598.8,1110.8C1597.1,1113.1 1594.6,1115.2 1591.9,1116.6C1589.2,1118 1585.8,1118.9 1582.7,1119.5C1579.6,1120 1576.6,1119.6 1573.5,1120C1570.4,1120.5 1567.4,1121.8 1564.3,1122.3C1561.2,1122.9 1558.2,1123.6 1555.1,1123.5C1552,1123.4 1548.8,1122.4 1545.9,1121.8C1543,1121.1 1540.5,1120.1 1537.8,1119.5C1535.2,1118.8 1532.1,1118.4 1529.8,1117.7C1527.5,1117.1 1525.5,1116.7 1524,1115.4C1522.6,1114.2 1521.3,1112.4 1521.2,1110.3Z" fill="#b9d9ba"/>
<g fill="#ffffff" opacity="0.6">
<rect x="1540.5" y="1130.3" width="2.3" height="4" transform="rotate(8 1540.5 1136.5)"/>
<rect x="1547" y="1129.8" width="2.3" height="4" transform="rotate(8 1547 1136)"/>
<rect x="1553.5" y="1129.3" width="2.3" height="4" transform="rotate(8 1553.5 1135.5)"/>
<rect x="1560" y="1128.8" width="2.3" height="4" transform="rotate(8 1560 1135)"/>
<rect x="1566.5" y="1128" width="2.3" height="4" transform="rotate(8 1566.5 1134.2)"/>
<rect x="1573" y="1127.2" width="2.3" height="4" transform="rotate(8 1573 1133.4)"/>
<rect x="1579.5" y="1126.4" width="2.3" height="4" transform="rotate(8 1579.5 1132.6)"/>
<rect x="1586" y="1125.5" width="2.3" height="4" transform="rotate(8 1586 1131.8)"/>
<rect x="1592.5" y="1124.7" width="2.3" height="4" transform="rotate(8 1592.5 1130.9)"/>
<rect x="1599" y="1123.9" width="2.3" height="4" transform="rotate(8 1599 1130.1)"/>
</g>
<g id="frags" stroke="#222" stroke-width="2.7" fill="none">
<path d="M1063,1086.4 L1105.8,1078.1 M1066.6,1085.7 L1064.8,1076.9 M1073.7,1084.3 L1072,1075.5 M1080.8,1082.9 L1079.1,1074.1 M1087.9,1081.5 L1086.2,1072.7 M1095.1,1080.1 L1093.4,1071.3 M1102.2,1078.7 L1100.5,1069.9"/>
<path d="M1067.5,1110 L1102.4,1119 M1071,1110.9 L1068.7,1119.6 M1078,1112.7 L1075.7,1121.4 M1084.9,1114.5 L1082.7,1123.2 M1091.9,1116.3 L1089.7,1125 M1098.9,1118.1 L1096.6,1126.8"/>
<path d="M1092.7,1098.8 L1106.9,1095.4 M1096.3,1097.9 L1098.3,1106.7 M1103.3,1096.2 L1105.4,1105"/>
<path d="M1121.5,1069.5 L1135,1069.5 M1124.9,1069.5 L1124.9,1078.5 M1131.6,1069.5 L1131.6,1078.5"/>
<path d="M1121.5,1095.4 L1160.9,1111.8 M1124.8,1096.8 L1128.3,1088.4 M1131.4,1099.5 L1134.8,1091.2 M1137.9,1102.2 L1141.4,1093.9 M1144.5,1105 L1147.9,1096.7 M1151,1107.7 L1154.5,1099.4 M1157.6,1110.4 L1161.1,1102.1"/>
<path d="M1120.4,1121.3 L1135,1124 M1124,1121.9 L1125.7,1113.1 M1131.4,1123.3 L1133,1114.4"/>
<path d="M1154.1,1085.3 L1168.3,1080.3 M1157.7,1084 L1160.7,1092.5 M1164.8,1081.5 L1167.7,1090"/>
<path d="M1154.1,1129.1 L1168.8,1133.6 M1157.8,1130.3 L1160.4,1121.7 M1165.1,1132.5 L1167.8,1123.9"/>
<path d="M1184.5,1071.3 L1199.1,1075.1 M1188.2,1072.3 L1185.9,1081 M1195.5,1074.2 L1193.2,1082.9"/>
<path d="M1191.3,1092 L1232.9,1107.3 M1194.7,1093.3 L1191.6,1101.7 M1201.7,1095.8 L1198.6,1104.3 M1208.6,1098.4 L1205.5,1106.8 M1215.6,1100.9 L1212.4,1109.4 M1222.5,1103.5 L1219.4,1111.9 M1229.4,1106 L1226.3,1114.5"/>
<path d="M1185,1119 L1199.8,1121.3 M1188.7,1119.6 L1190,1110.7 M1196.1,1120.7 L1197.5,1111.8"/>
<path d="M1217.8,1080.8 L1232.9,1084.1 M1221.6,1081.6 L1223.6,1072.8 M1229.1,1083.3 L1231.1,1074.5"/>
<path d="M1219.4,1134.3 L1232.9,1134.3 M1222.8,1134.3 L1222.8,1125.3 M1229.5,1134.3 L1229.5,1125.3"/>
<path d="M1250.9,1085.3 L1285.8,1093.1 M1254.4,1086 L1256.4,1077.3 M1261.4,1087.6 L1263.3,1078.8 M1268.3,1089.2 L1270.3,1080.4 M1275.3,1090.8 L1277.3,1082 M1282.3,1092.3 L1284.3,1083.6"/>
<path d="M1247.5,1108.9 L1261,1104.4 M1250.9,1107.8 L1248.1,1099.2 M1257.7,1105.5 L1254.8,1097"/>
<path d="M1247.5,1124.6 L1289.8,1117.9 M1251.1,1124.1 L1252.5,1133 M1258.1,1122.9 L1259.5,1131.8 M1265.2,1121.8 L1266.6,1130.7 M1272.2,1120.7 L1273.6,1129.6 M1279.3,1119.6 L1280.7,1128.5 M1286.3,1118.4 L1287.7,1127.3"/>
</g>
</g>
<g id="lines">
<path d="M290.6,467 V684" fill="none" stroke="#2b2b2b" stroke-width="2.4" />
<polygon points="290.6,697.7 283.1,683.2 298.1,683.2" fill="#222"/>
<path d="M294,784 V922 C294,962 318,988 356,988 H468" fill="none" stroke="#2b2b2b" stroke-width="2.4" />
<polygon points="481.5,987.8 467,995.3 467,980.3" fill="#222"/>
<polygon points="1335.5,329.5 1321,337 1321,322" fill="#222"/>
<path d="M1411.9,382 V514" fill="none" stroke="#2b2b2b" stroke-width="2.4" />
<polygon points="1411.9,528 1404.4,513.5 1419.4,513.5" fill="#222"/>
<path d="M1411.5,382 C1413,430 1445,465 1497,478.5" fill="none" stroke="#2b2b2b" stroke-width="3.2" />
<polygon points="1514.5,483.5 1490.7,487.9 1495.6,468.5" fill="#222"/>
<path d="M1411.9,696.5 V765" fill="none" stroke="#2b2b2b" stroke-width="2.4" />
<polygon points="1411.9,779 1404.4,764.5 1419.4,764.5" fill="#222"/>
<path d="M1412,957 L1294.9,1050.5" fill="none" stroke="#2b2b2b" stroke-width="2.4" />
<polygon points="1285.5,1058 1292.2,1043.1 1301.5,1054.8" fill="#222"/>
<path d="M1412,957 L1533.5,1050.7" fill="none" stroke="#2b2b2b" stroke-width="2.4" />
<polygon points="1543,1058 1526.9,1055.1 1536.1,1043.2" fill="#222"/>
<path d="M1568.8,1074 V1041.8 H1684.5" fill="none" stroke="#222" stroke-width="3.6" />
<path d="M1684.5,1029.6 V1054.6" fill="none" stroke="#222" stroke-width="3.6" />
</g>
<g id="labels">
<text x="702.2" y="291.8" font-size="32.5" fill="#e0a9ae" font-style="italic" textLength="98.8" lengthAdjust="spacingAndGlyphs" stroke="#e0a9ae" stroke-width="0.35">Núcleo</text>
<text x="895.3" y="291.8" font-size="32.5" fill="#f1b1b4" font-style="italic" textLength="159.9" lengthAdjust="spacingAndGlyphs" stroke="#f1b1b4" stroke-width="0.35">Citoplasma</text>
<text x="247.1" y="346.3" font-size="32.5" fill="#3c4b83" textLength="62.2" lengthAdjust="spacingAndGlyphs" stroke="#3c4b83" stroke-width="0.35">RNA</text>
<text x="243.2" y="383.3" font-size="32.5" fill="#3c4b83" textLength="70.4" lengthAdjust="spacingAndGlyphs" stroke="#3c4b83" stroke-width="0.35">Pol II</text>
<text x="359.1" y="472.6" font-size="32.5" fill="#1f3b8c" textLength="156" lengthAdjust="spacingAndGlyphs" stroke="#1f3b8c" stroke-width="0.35">gen miRNA</text>
<text x="87.2" y="573.3" font-size="32.5" fill="#333333" textLength="191.1" lengthAdjust="spacingAndGlyphs" stroke="#333333" stroke-width="0.35">Transcripción</text>
<text x="381.1" y="677" font-size="27.2" fill="#202a62" textLength="87.2" lengthAdjust="spacingAndGlyphs" stroke="#202a62" stroke-width="0.35">Drosha</text>
<text x="107.8" y="796.4" font-size="32.5" fill="#333333" textLength="142.4" lengthAdjust="spacingAndGlyphs" stroke="#333333" stroke-width="0.35">pri-miRNA</text>
<text x="529.4" y="1046.2" font-size="32.5" fill="#333333" textLength="150.5" lengthAdjust="spacingAndGlyphs" stroke="#333333" stroke-width="0.35">pre-miRNA</text>
<text x="699.1" y="942.5" font-size="32.5" fill="#a13140" font-weight="bold" textLength="161.6" lengthAdjust="spacingAndGlyphs" stroke="#a13140" stroke-width="0.35">Exportina 5</text>
<text x="1360.1" y="274.9" font-size="27.2" fill="#202a62" textLength="77" lengthAdjust="spacingAndGlyphs" stroke="#202a62" stroke-width="0.35">DICER</text>
<text x="1542.7" y="514.1" font-size="25.5" fill="#333333" textLength="18.9" lengthAdjust="spacingAndGlyphs" stroke="#333333" stroke-width="0.35">3'</text>
<text x="1745.7" y="509.9" font-size="25.5" fill="#333333" textLength="19.3" lengthAdjust="spacingAndGlyphs" stroke="#333333" stroke-width="0.35">5'</text>
<text x="1240.6" y="556.4" font-size="32.5" fill="#333333" textLength="99.7" lengthAdjust="spacingAndGlyphs" stroke="#333333" stroke-width="0.35">miARN</text>
<text x="1230.6" y="593.9" font-size="32.5" fill="#333333" textLength="108.5" lengthAdjust="spacingAndGlyphs" stroke="#333333" stroke-width="0.35">maduro</text>
<text x="1390" y="601.7" font-size="26" fill="#8b5a2b" textLength="52.8" lengthAdjust="spacingAndGlyphs" stroke="#8b5a2b" stroke-width="0.35">RISC</text>
<text x="1310.7" y="653.9" font-size="25.5" fill="#333333" textLength="18.9" lengthAdjust="spacingAndGlyphs" stroke="#333333" stroke-width="0.35">5'</text>
<text x="1505.7" y="654.9" font-size="25.5" fill="#333333" textLength="19.7" lengthAdjust="spacingAndGlyphs" stroke="#333333" stroke-width="0.35">3'</text>
<text x="1377.4" y="865.9" font-size="26" fill="#8b5a2b" textLength="52.8" lengthAdjust="spacingAndGlyphs" stroke="#8b5a2b" stroke-width="0.35">RISC</text>
<text x="1133.7" y="983.9" font-size="32.5" fill="#333333" textLength="172.5" lengthAdjust="spacingAndGlyphs" stroke="#333333" stroke-width="0.35">ARNm diana</text>
<text x="1015.3" y="1215.5" font-size="32.5" fill="#333333" textLength="326.3" lengthAdjust="spacingAndGlyphs" stroke="#333333" stroke-width="0.35">Degradación del ARNm</text>
<text x="1727.6" y="1064.9" font-size="26" fill="#8b5a2b" textLength="52.6" lengthAdjust="spacingAndGlyphs" stroke="#8b5a2b" stroke-width="0.35">RISC</text>
<text x="1565.7" y="1211.9" font-size="32.5" fill="#333333" textLength="213.9" lengthAdjust="spacingAndGlyphs" stroke="#333333" stroke-width="0.35">Represión de la</text>
<text x="1567.8" y="1250.4" font-size="32.5" fill="#333333" textLength="147.9" lengthAdjust="spacingAndGlyphs" stroke="#333333" stroke-width="0.35">traducción</text>
</g>
</svg></body></html>
